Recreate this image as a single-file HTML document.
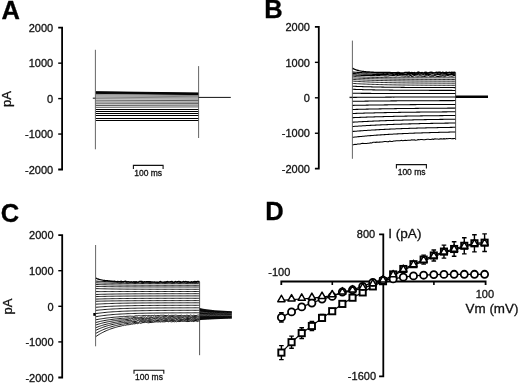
<!DOCTYPE html>
<html><head><meta charset="utf-8"><style>
html,body{margin:0;padding:0;background:#fff;width:520px;height:383px;overflow:hidden}
svg{display:block;will-change:transform;font-family:"Liberation Sans",sans-serif}
</style></head><body>
<svg width="520" height="383" viewBox="0 0 520 383" font-family="Liberation Sans, sans-serif">
<rect width="520" height="383" fill="#fff"/>
<text x="1.5" y="19.2" font-size="25.5" text-anchor="start" font-weight="bold" fill="#000" stroke="#000" stroke-width="0.3" >A</text>
<text x="264.2" y="17.8" font-size="25.5" text-anchor="start" font-weight="bold" fill="#000" stroke="#000" stroke-width="0.3" >B</text>
<text x="0.8" y="221.8" font-size="25.5" text-anchor="start" font-weight="bold" fill="#000" stroke="#000" stroke-width="0.3" >C</text>
<text x="265.2" y="219.8" font-size="25.5" text-anchor="start" font-weight="bold" fill="#000" stroke="#000" stroke-width="0.3" >D</text>
<path d="M58.2 27.7 H62.1 V169.5 H58.2" fill="none" stroke="#000" stroke-width="1.8"/>
<line x1="58.2" y1="63.15" x2="62.1" y2="63.15" stroke="#000" stroke-width="1.4" />
<line x1="58.2" y1="98.6" x2="62.1" y2="98.6" stroke="#000" stroke-width="1.4" />
<line x1="58.2" y1="134.05" x2="62.1" y2="134.05" stroke="#000" stroke-width="1.4" />
<text x="53.2" y="31.9" font-size="11" text-anchor="end" font-weight="normal" fill="#111" stroke="#111" stroke-width="0.3" >2000</text>
<text x="53.2" y="67.35" font-size="11" text-anchor="end" font-weight="normal" fill="#111" stroke="#111" stroke-width="0.3" >1000</text>
<text x="53.2" y="102.8" font-size="11" text-anchor="end" font-weight="normal" fill="#111" stroke="#111" stroke-width="0.3" >0</text>
<text x="53.2" y="138.25" font-size="11" text-anchor="end" font-weight="normal" fill="#111" stroke="#111" stroke-width="0.3" >-1000</text>
<text x="53.2" y="173.7" font-size="11" text-anchor="end" font-weight="normal" fill="#111" stroke="#111" stroke-width="0.3" >-2000</text>
<text transform="translate(11.4,99.0) rotate(-90)" font-size="13" text-anchor="middle" fill="#111" stroke="#111" stroke-width="0.3">pA</text>
<path d="M95.8 91.7 L198.6 93" fill="none" stroke="#000" stroke-width="0.95" />
<path d="M95.8 92.1 L198.6 93.4" fill="none" stroke="#000" stroke-width="0.95" />
<path d="M95.8 92.5 L198.6 93.8" fill="none" stroke="#000" stroke-width="0.95" />
<path d="M95.8 92.9 L198.6 94.2" fill="none" stroke="#000" stroke-width="0.95" />
<path d="M95.8 93.4 L198.6 94.6" fill="none" stroke="#000" stroke-width="0.95" />
<path d="M95.8 94.6 L198.6 95.6" fill="none" stroke="#000" stroke-width="0.5" />
<path d="M95.8 95.9 L198.6 96.7" fill="none" stroke="#000" stroke-width="0.5" />
<path d="M95.8 97.2 L198.6 97.9" fill="none" stroke="#000" stroke-width="0.5" />
<path d="M95.8 98.6 L198.6 99.2" fill="none" stroke="#000" stroke-width="0.5" />
<path d="M95.8 100.2 L198.6 100.6" fill="none" stroke="#000" stroke-width="0.65" />
<path d="M95.8 102 L198.6 102.1" fill="none" stroke="#000" stroke-width="0.65" />
<path d="M95.8 103.8 L198.6 103.6" fill="none" stroke="#000" stroke-width="0.65" />
<path d="M95.8 105.5 L198.6 105.1" fill="none" stroke="#000" stroke-width="0.65" />
<path d="M95.8 107.3 L198.6 106.9" fill="none" stroke="#000" stroke-width="0.65" />
<path d="M95.8 109.5 L198.6 109.5" fill="none" stroke="#000" stroke-width="1.0" />
<path d="M95.8 111.5 L198.6 111.5" fill="none" stroke="#000" stroke-width="1.0" />
<path d="M95.8 113.5 L198.6 113.5" fill="none" stroke="#000" stroke-width="1.0" />
<path d="M95.8 115.5 L198.6 115.5" fill="none" stroke="#000" stroke-width="1.0" />
<path d="M95.8 118.5 L198.6 118.5" fill="none" stroke="#000" stroke-width="1.0" />
<path d="M95.8 120.5 L198.6 120.5" fill="none" stroke="#000" stroke-width="1.0" />
<line x1="95.4" y1="49.8" x2="95.4" y2="149.3" stroke="#555" stroke-width="0.9" />
<line x1="198.6" y1="66.1" x2="198.6" y2="138" stroke="#555" stroke-width="0.9" />
<line x1="92.8" y1="98.2" x2="95.4" y2="98.2" stroke="#333" stroke-width="1.2" />
<line x1="198.6" y1="97.4" x2="230.8" y2="97.4" stroke="#111" stroke-width="1.0" />
<path d="M133.4 169 V165.4 H163.1 V169" fill="none" stroke="#111" stroke-width="1.1"/>
<text x="148.2" y="175.9" font-size="8.5" text-anchor="middle" font-weight="normal" fill="#111" stroke="#111" stroke-width="0.3" >100 ms</text>
<path d="M314.9 26.9 H318.8 V168.7 H314.9" fill="none" stroke="#000" stroke-width="1.8"/>
<line x1="314.9" y1="62.35" x2="318.8" y2="62.35" stroke="#000" stroke-width="1.4" />
<line x1="314.9" y1="97.8" x2="318.8" y2="97.8" stroke="#000" stroke-width="1.4" />
<line x1="314.9" y1="133.25" x2="318.8" y2="133.25" stroke="#000" stroke-width="1.4" />
<text x="309.9" y="31.1" font-size="11" text-anchor="end" font-weight="normal" fill="#111" stroke="#111" stroke-width="0.3" >2000</text>
<text x="309.9" y="66.55" font-size="11" text-anchor="end" font-weight="normal" fill="#111" stroke="#111" stroke-width="0.3" >1000</text>
<text x="309.9" y="102" font-size="11" text-anchor="end" font-weight="normal" fill="#111" stroke="#111" stroke-width="0.3" >0</text>
<text x="309.9" y="137.45" font-size="11" text-anchor="end" font-weight="normal" fill="#111" stroke="#111" stroke-width="0.3" >-1000</text>
<text x="309.9" y="172.9" font-size="11" text-anchor="end" font-weight="normal" fill="#111" stroke="#111" stroke-width="0.3" >-2000</text>
<path d="M352.4 68.1 L353.69 68.77 L354.98 69.34 L356.27 69.83 L357.56 70.24 L358.85 70.59 L360.14 70.89 L361.43 71.14 L362.72 71.36 L364.01 71.55 L365.3 71.7 L366.59 71.84 L367.88 71.95 L369.17 72.05 L370.46 72.13 L371.75 72.2 L373.04 72.25 L374.33 72.34 L375.62 72.4 L376.91 72.41 L378.2 72.44 L379.49 72.38 L380.78 72.36 L382.07 72.5 L383.36 72.38 L384.65 72.42 L385.94 72.44 L387.23 72.36 L388.52 72.54 L389.81 72.53 L391.1 72.73 L392.39 72.58 L393.68 72.65 L394.97 72.58 L396.26 72.68 L397.55 72.56 L398.84 72.44 L400.13 72.94 L401.42 72.95 L402.71 72.85 L404 72.76 L405.29 72.44 L406.58 72.36 L407.87 72.41 L409.16 72.2 L410.45 72.85 L411.74 72.5 L413.03 72.94 L414.32 72.48 L415.61 73.06 L416.9 72.95 L418.19 72.1 L419.48 72.31 L420.77 73.01 L422.06 72.57 L423.35 73.08 L424.64 72.5 L425.93 72.17 L427.22 72.73 L428.51 72.88 L429.8 72.37 L431.09 72.19 L432.38 72.43 L433.67 73.06 L434.96 72.86 L436.25 72.22 L437.54 72.35 L438.83 72.2 L440.12 72.16 L441.41 72.9 L442.7 72.28 L443.99 72.66 L445.28 72.55 L446.57 72.29 L447.86 72.83 L449.15 72.23 L450.44 72.74 L451.73 72.22 L453.02 72.52 L454.31 72.31 L455.6 72.6" fill="none" stroke="#000" stroke-width="1.4" />
<path d="M352.4 72 L353.69 72.12 L354.98 72.22 L356.27 72.32 L357.56 72.41 L358.85 72.49 L360.14 72.56 L361.43 72.63 L362.72 72.7 L364.01 72.76 L365.3 72.81 L366.59 72.86 L367.88 72.9 L369.17 72.94 L370.46 72.98 L371.75 73.02 L373.04 73.04 L374.33 73.05 L375.62 73.07 L376.91 73.14 L378.2 73.11 L379.49 73.19 L380.78 73.16 L382.07 73.2 L383.36 73.35 L384.65 73.23 L385.94 73.28 L387.23 73.4 L388.52 73.14 L389.81 73.13 L391.1 73.49 L392.39 73.47 L393.68 73.18 L394.97 73.14 L396.26 73.47 L397.55 73.61 L398.84 73.13 L400.13 73.66 L401.42 73.63 L402.71 73.43 L404 73.29 L405.29 73.03 L406.58 72.96 L407.87 73.78 L409.16 73.13 L410.45 73.57 L411.74 73.13 L413.03 73.7 L414.32 73.48 L415.61 73.17 L416.9 73.06 L418.19 73.6 L419.48 72.95 L420.77 73.12 L422.06 73.45 L423.35 73.74 L424.64 73.5 L425.93 73.17 L427.22 73.81 L428.51 73.1 L429.8 72.91 L431.09 73.16 L432.38 73.34 L433.67 72.96 L434.96 73.07 L436.25 73.26 L437.54 73.47 L438.83 73.03 L440.12 73.26 L441.41 73.79 L442.7 73.88 L443.99 73.56 L445.28 73.59 L446.57 73.48 L447.86 73.04 L449.15 72.93 L450.44 72.92 L451.73 73.81 L453.02 73.6 L454.31 73.86 L455.6 73.4" fill="none" stroke="#000" stroke-width="1.1" />
<path d="M352.4 73.5 L353.69 73.59 L354.98 73.67 L356.27 73.75 L357.56 73.82 L358.85 73.88 L360.14 73.94 L361.43 74 L362.72 74.05 L364.01 74.09 L365.3 74.14 L366.59 74.17 L367.88 74.21 L369.17 74.24 L370.46 74.27 L371.75 74.3 L373.04 74.33 L374.33 74.37 L375.62 74.4 L376.91 74.38 L378.2 74.45 L379.49 74.49 L380.78 74.45 L382.07 74.48 L383.36 74.43 L384.65 74.5 L385.94 74.52 L387.23 74.33 L388.52 74.56 L389.81 74.73 L391.1 74.7 L392.39 74.64 L393.68 74.47 L394.97 74.67 L396.26 74.59 L397.55 74.51 L398.84 74.78 L400.13 74.26 L401.42 74.74 L402.71 74.2 L404 74.65 L405.29 74.55 L406.58 74.34 L407.87 74.75 L409.16 74.57 L410.45 74.69 L411.74 75 L413.03 74.34 L414.32 74.09 L415.61 74.39 L416.9 74.76 L418.19 74.29 L419.48 74.26 L420.77 75 L422.06 74.75 L423.35 74.53 L424.64 74.98 L425.93 74.42 L427.22 74.76 L428.51 74.29 L429.8 74.53 L431.09 74.9 L432.38 75.01 L433.67 74.98 L434.96 74.48 L436.25 74.68 L437.54 74.41 L438.83 74.23 L440.12 74.59 L441.41 74.94 L442.7 74.95 L443.99 74.81 L445.28 75.05 L446.57 74.38 L447.86 74.27 L449.15 74.55 L450.44 74.37 L451.73 74.31 L453.02 74.51 L454.31 74.73 L455.6 74.6" fill="none" stroke="#000" stroke-width="1.1" />
<path d="M352.4 74.9 L353.69 74.98 L354.98 75.06 L356.27 75.13 L357.56 75.19 L358.85 75.25 L360.14 75.3 L361.43 75.35 L362.72 75.4 L364.01 75.44 L365.3 75.48 L366.59 75.51 L367.88 75.54 L369.17 75.57 L370.46 75.6 L371.75 75.63 L373.04 75.65 L374.33 75.64 L375.62 75.72 L376.91 75.67 L378.2 75.67 L379.49 75.65 L380.78 75.78 L382.07 75.75 L383.36 75.81 L384.65 75.83 L385.94 75.9 L387.23 75.98 L388.52 75.89 L389.81 75.68 L391.1 75.81 L392.39 75.67 L393.68 75.57 L394.97 75.83 L396.26 75.98 L397.55 75.65 L398.84 75.7 L400.13 75.75 L401.42 76.01 L402.71 75.88 L404 75.96 L405.29 76.08 L406.58 75.78 L407.87 76.14 L409.16 76.26 L410.45 75.48 L411.74 76.31 L413.03 76.11 L414.32 75.51 L415.61 75.84 L416.9 76.01 L418.19 76.3 L419.48 75.77 L420.77 75.96 L422.06 76.27 L423.35 76.19 L424.64 76.34 L425.93 75.86 L427.22 76.05 L428.51 75.6 L429.8 76.12 L431.09 76.21 L432.38 76.04 L433.67 76.11 L434.96 75.61 L436.25 76.3 L437.54 76.38 L438.83 76.38 L440.12 75.94 L441.41 76.19 L442.7 75.72 L443.99 76.31 L445.28 76.25 L446.57 75.75 L447.86 75.48 L449.15 75.84 L450.44 75.95 L451.73 76.17 L453.02 75.89 L454.31 75.43 L455.6 75.9" fill="none" stroke="#000" stroke-width="1.1" />
<path d="M352.4 76.2 L353.69 76.33 L354.98 76.45 L356.27 76.56 L357.56 76.67 L358.85 76.76 L360.14 76.85 L361.43 76.92 L362.72 77 L364.01 77.06 L365.3 77.12 L366.59 77.18 L367.88 77.23 L369.17 77.28 L370.46 77.32 L371.75 77.36 L373.04 77.4 L374.33 77.43 L375.62 77.46 L376.91 77.49 L378.2 77.51 L379.49 77.54 L380.78 77.56 L382.07 77.58 L383.36 77.6 L384.65 77.62 L385.94 77.63 L387.23 77.64 L388.52 77.66 L389.81 77.67 L391.1 77.68 L392.39 77.69 L393.68 77.7 L394.97 77.71 L396.26 77.72 L397.55 77.72 L398.84 77.73 L400.13 77.74 L401.42 77.74 L402.71 77.75 L404 77.75 L405.29 77.75 L406.58 77.76 L407.87 77.76 L409.16 77.77 L410.45 77.77 L411.74 77.77 L413.03 77.77 L414.32 77.78 L415.61 77.78 L416.9 77.78 L418.19 77.78 L419.48 77.78 L420.77 77.78 L422.06 77.79 L423.35 77.79 L424.64 77.79 L425.93 77.79 L427.22 77.79 L428.51 77.79 L429.8 77.79 L431.09 77.79 L432.38 77.79 L433.67 77.79 L434.96 77.8 L436.25 77.8 L437.54 77.8 L438.83 77.8 L440.12 77.8 L441.41 77.8 L442.7 77.8 L443.99 77.8 L445.28 77.8 L446.57 77.8 L447.86 77.8 L449.15 77.8 L450.44 77.8 L451.73 77.8 L453.02 77.8 L454.31 77.8 L455.6 77.8" fill="none" stroke="#000" stroke-width="0.85" />
<path d="M352.4 77.9 L353.69 77.97 L354.98 78.04 L356.27 78.1 L357.56 78.16 L358.85 78.22 L360.14 78.28 L361.43 78.33 L362.72 78.38 L364.01 78.43 L365.3 78.48 L366.59 78.52 L367.88 78.57 L369.17 78.61 L370.46 78.65 L371.75 78.69 L373.04 78.72 L374.33 78.76 L375.62 78.79 L376.91 78.82 L378.2 78.85 L379.49 78.88 L380.78 78.91 L382.07 78.94 L383.36 78.96 L384.65 78.99 L385.94 79.01 L387.23 79.04 L388.52 79.06 L389.81 79.08 L391.1 79.1 L392.39 79.12 L393.68 79.14 L394.97 79.15 L396.26 79.17 L397.55 79.19 L398.84 79.2 L400.13 79.22 L401.42 79.23 L402.71 79.24 L404 79.26 L405.29 79.27 L406.58 79.28 L407.87 79.29 L409.16 79.3 L410.45 79.31 L411.74 79.32 L413.03 79.33 L414.32 79.34 L415.61 79.35 L416.9 79.36 L418.19 79.37 L419.48 79.38 L420.77 79.38 L422.06 79.39 L423.35 79.4 L424.64 79.4 L425.93 79.41 L427.22 79.42 L428.51 79.42 L429.8 79.43 L431.09 79.43 L432.38 79.44 L433.67 79.44 L434.96 79.45 L436.25 79.45 L437.54 79.46 L438.83 79.46 L440.12 79.46 L441.41 79.47 L442.7 79.47 L443.99 79.47 L445.28 79.48 L446.57 79.48 L447.86 79.48 L449.15 79.49 L450.44 79.49 L451.73 79.49 L453.02 79.5 L454.31 79.5 L455.6 79.5" fill="none" stroke="#000" stroke-width="0.85" />
<path d="M352.4 79.4 L353.69 79.48 L354.98 79.55 L356.27 79.63 L357.56 79.69 L358.85 79.76 L360.14 79.82 L361.43 79.88 L362.72 79.94 L364.01 80 L365.3 80.05 L366.59 80.1 L367.88 80.15 L369.17 80.2 L370.46 80.24 L371.75 80.28 L373.04 80.33 L374.33 80.36 L375.62 80.4 L376.91 80.44 L378.2 80.47 L379.49 80.51 L380.78 80.54 L382.07 80.57 L383.36 80.6 L384.65 80.62 L385.94 80.65 L387.23 80.68 L388.52 80.7 L389.81 80.73 L391.1 80.75 L392.39 80.77 L393.68 80.79 L394.97 80.81 L396.26 80.83 L397.55 80.85 L398.84 80.86 L400.13 80.88 L401.42 80.9 L402.71 80.91 L404 80.93 L405.29 80.94 L406.58 80.95 L407.87 80.97 L409.16 80.98 L410.45 80.99 L411.74 81 L413.03 81.01 L414.32 81.02 L415.61 81.03 L416.9 81.04 L418.19 81.05 L419.48 81.06 L420.77 81.07 L422.06 81.08 L423.35 81.08 L424.64 81.09 L425.93 81.1 L427.22 81.11 L428.51 81.11 L429.8 81.12 L431.09 81.12 L432.38 81.13 L433.67 81.14 L434.96 81.14 L436.25 81.15 L437.54 81.15 L438.83 81.16 L440.12 81.16 L441.41 81.16 L442.7 81.17 L443.99 81.17 L445.28 81.18 L446.57 81.18 L447.86 81.18 L449.15 81.19 L450.44 81.19 L451.73 81.19 L453.02 81.19 L454.31 81.2 L455.6 81.2" fill="none" stroke="#000" stroke-width="0.85" />
<path d="M352.4 81.1 L353.69 81.19 L354.98 81.28 L356.27 81.36 L357.56 81.44 L358.85 81.52 L360.14 81.59 L361.43 81.66 L362.72 81.73 L364.01 81.8 L365.3 81.86 L366.59 81.92 L367.88 81.97 L369.17 82.03 L370.46 82.08 L371.75 82.13 L373.04 82.18 L374.33 82.23 L375.62 82.27 L376.91 82.31 L378.2 82.35 L379.49 82.39 L380.78 82.43 L382.07 82.46 L383.36 82.5 L384.65 82.53 L385.94 82.56 L387.23 82.59 L388.52 82.62 L389.81 82.65 L391.1 82.67 L392.39 82.7 L393.68 82.72 L394.97 82.74 L396.26 82.77 L397.55 82.79 L398.84 82.81 L400.13 82.83 L401.42 82.85 L402.71 82.86 L404 82.88 L405.29 82.9 L406.58 82.91 L407.87 82.93 L409.16 82.94 L410.45 82.96 L411.74 82.97 L413.03 82.98 L414.32 82.99 L415.61 83.01 L416.9 83.02 L418.19 83.03 L419.48 83.04 L420.77 83.05 L422.06 83.06 L423.35 83.07 L424.64 83.07 L425.93 83.08 L427.22 83.09 L428.51 83.1 L429.8 83.11 L431.09 83.11 L432.38 83.12 L433.67 83.13 L434.96 83.13 L436.25 83.14 L437.54 83.14 L438.83 83.15 L440.12 83.15 L441.41 83.16 L442.7 83.16 L443.99 83.17 L445.28 83.17 L446.57 83.18 L447.86 83.18 L449.15 83.18 L450.44 83.19 L451.73 83.19 L453.02 83.19 L454.31 83.2 L455.6 83.2" fill="none" stroke="#000" stroke-width="0.85" />
<path d="M352.4 83.4 L353.69 83.48 L354.98 83.56 L356.27 83.64 L357.56 83.71 L358.85 83.78 L360.14 83.85 L361.43 83.91 L362.72 83.97 L364.01 84.03 L365.3 84.09 L366.59 84.14 L367.88 84.19 L369.17 84.24 L370.46 84.29 L371.75 84.33 L373.04 84.38 L374.33 84.42 L375.62 84.46 L376.91 84.5 L378.2 84.53 L379.49 84.57 L380.78 84.6 L382.07 84.63 L383.36 84.66 L384.65 84.69 L385.94 84.72 L387.23 84.75 L388.52 84.77 L389.81 84.8 L391.1 84.82 L392.39 84.85 L393.68 84.87 L394.97 84.89 L396.26 84.91 L397.55 84.93 L398.84 84.95 L400.13 84.96 L401.42 84.98 L402.71 85 L404 85.01 L405.29 85.03 L406.58 85.04 L407.87 85.05 L409.16 85.07 L410.45 85.08 L411.74 85.09 L413.03 85.1 L414.32 85.11 L415.61 85.12 L416.9 85.13 L418.19 85.14 L419.48 85.15 L420.77 85.16 L422.06 85.17 L423.35 85.18 L424.64 85.19 L425.93 85.19 L427.22 85.2 L428.51 85.21 L429.8 85.21 L431.09 85.22 L432.38 85.23 L433.67 85.23 L434.96 85.24 L436.25 85.24 L437.54 85.25 L438.83 85.25 L440.12 85.26 L441.41 85.26 L442.7 85.27 L443.99 85.27 L445.28 85.27 L446.57 85.28 L447.86 85.28 L449.15 85.28 L450.44 85.29 L451.73 85.29 L453.02 85.29 L454.31 85.3 L455.6 85.3" fill="none" stroke="#000" stroke-width="0.85" />
<path d="M352.4 86.2 L353.69 86.26 L354.98 86.32 L356.27 86.38 L357.56 86.43 L358.85 86.48 L360.14 86.53 L361.43 86.58 L362.72 86.62 L364.01 86.66 L365.3 86.71 L366.59 86.75 L367.88 86.78 L369.17 86.82 L370.46 86.85 L371.75 86.89 L373.04 86.92 L374.33 86.95 L375.62 86.98 L376.91 87.01 L378.2 87.03 L379.49 87.06 L380.78 87.08 L382.07 87.11 L383.36 87.13 L384.65 87.15 L385.94 87.17 L387.23 87.19 L388.52 87.21 L389.81 87.23 L391.1 87.25 L392.39 87.26 L393.68 87.28 L394.97 87.3 L396.26 87.31 L397.55 87.33 L398.84 87.34 L400.13 87.35 L401.42 87.36 L402.71 87.38 L404 87.39 L405.29 87.4 L406.58 87.41 L407.87 87.42 L409.16 87.43 L410.45 87.44 L411.74 87.45 L413.03 87.45 L414.32 87.46 L415.61 87.47 L416.9 87.48 L418.19 87.48 L419.48 87.49 L420.77 87.5 L422.06 87.5 L423.35 87.51 L424.64 87.52 L425.93 87.52 L427.22 87.53 L428.51 87.53 L429.8 87.54 L431.09 87.54 L432.38 87.55 L433.67 87.55 L434.96 87.55 L436.25 87.56 L437.54 87.56 L438.83 87.57 L440.12 87.57 L441.41 87.57 L442.7 87.58 L443.99 87.58 L445.28 87.58 L446.57 87.58 L447.86 87.59 L449.15 87.59 L450.44 87.59 L451.73 87.59 L453.02 87.6 L454.31 87.6 L455.6 87.6" fill="none" stroke="#000" stroke-width="1.05" />
<path d="M352.4 89.3 L353.69 89.35 L354.98 89.39 L356.27 89.44 L357.56 89.48 L358.85 89.52 L360.14 89.56 L361.43 89.6 L362.72 89.63 L364.01 89.66 L365.3 89.7 L366.59 89.73 L367.88 89.76 L369.17 89.79 L370.46 89.81 L371.75 89.84 L373.04 89.87 L374.33 89.89 L375.62 89.91 L376.91 89.93 L378.2 89.96 L379.49 89.98 L380.78 90 L382.07 90.01 L383.36 90.03 L384.65 90.05 L385.94 90.06 L387.23 90.08 L388.52 90.1 L389.81 90.11 L391.1 90.12 L392.39 90.14 L393.68 90.15 L394.97 90.16 L396.26 90.17 L397.55 90.18 L398.84 90.19 L400.13 90.2 L401.42 90.21 L402.71 90.22 L404 90.23 L405.29 90.24 L406.58 90.25 L407.87 90.26 L409.16 90.27 L410.45 90.27 L411.74 90.28 L413.03 90.29 L414.32 90.29 L415.61 90.3 L416.9 90.3 L418.19 90.31 L419.48 90.31 L420.77 90.32 L422.06 90.32 L423.35 90.33 L424.64 90.33 L425.93 90.34 L427.22 90.34 L428.51 90.35 L429.8 90.35 L431.09 90.35 L432.38 90.36 L433.67 90.36 L434.96 90.36 L436.25 90.37 L437.54 90.37 L438.83 90.37 L440.12 90.38 L441.41 90.38 L442.7 90.38 L443.99 90.38 L445.28 90.39 L446.57 90.39 L447.86 90.39 L449.15 90.39 L450.44 90.39 L451.73 90.39 L453.02 90.4 L454.31 90.4 L455.6 90.4" fill="none" stroke="#000" stroke-width="1.05" />
<path d="M352.4 93.3 L353.69 93.31 L354.98 93.32 L356.27 93.33 L357.56 93.33 L358.85 93.34 L360.14 93.35 L361.43 93.35 L362.72 93.36 L364.01 93.37 L365.3 93.37 L366.59 93.38 L367.88 93.38 L369.17 93.39 L370.46 93.39 L371.75 93.4 L373.04 93.4 L374.33 93.41 L375.62 93.41 L376.91 93.42 L378.2 93.42 L379.49 93.42 L380.78 93.43 L382.07 93.43 L383.36 93.43 L384.65 93.44 L385.94 93.44 L387.23 93.44 L388.52 93.44 L389.81 93.45 L391.1 93.45 L392.39 93.45 L393.68 93.45 L394.97 93.46 L396.26 93.46 L397.55 93.46 L398.84 93.46 L400.13 93.46 L401.42 93.47 L402.71 93.47 L404 93.47 L405.29 93.47 L406.58 93.47 L407.87 93.47 L409.16 93.48 L410.45 93.48 L411.74 93.48 L413.03 93.48 L414.32 93.48 L415.61 93.48 L416.9 93.48 L418.19 93.48 L419.48 93.48 L420.77 93.49 L422.06 93.49 L423.35 93.49 L424.64 93.49 L425.93 93.49 L427.22 93.49 L428.51 93.49 L429.8 93.49 L431.09 93.49 L432.38 93.49 L433.67 93.49 L434.96 93.49 L436.25 93.49 L437.54 93.49 L438.83 93.5 L440.12 93.5 L441.41 93.5 L442.7 93.5 L443.99 93.5 L445.28 93.5 L446.57 93.5 L447.86 93.5 L449.15 93.5 L450.44 93.5 L451.73 93.5 L453.02 93.5 L454.31 93.5 L455.6 93.5" fill="none" stroke="#000" stroke-width="1.05" />
<path d="M352.4 97.4 L353.69 97.39 L354.98 97.37 L356.27 97.36 L357.56 97.35 L358.85 97.34 L360.14 97.33 L361.43 97.31 L362.72 97.3 L364.01 97.29 L365.3 97.28 L366.59 97.27 L367.88 97.26 L369.17 97.25 L370.46 97.24 L371.75 97.23 L373.04 97.22 L374.33 97.21 L375.62 97.2 L376.91 97.2 L378.2 97.19 L379.49 97.18 L380.78 97.17 L382.07 97.16 L383.36 97.15 L384.65 97.15 L385.94 97.14 L387.23 97.13 L388.52 97.12 L389.81 97.12 L391.1 97.11 L392.39 97.1 L393.68 97.1 L394.97 97.09 L396.26 97.08 L397.55 97.08 L398.84 97.07 L400.13 97.07 L401.42 97.06 L402.71 97.05 L404 97.05 L405.29 97.04 L406.58 97.04 L407.87 97.03 L409.16 97.03 L410.45 97.02 L411.74 97.02 L413.03 97.01 L414.32 97.01 L415.61 97 L416.9 97 L418.19 96.99 L419.48 96.99 L420.77 96.99 L422.06 96.98 L423.35 96.98 L424.64 96.97 L425.93 96.97 L427.22 96.97 L428.51 96.96 L429.8 96.96 L431.09 96.96 L432.38 96.95 L433.67 96.95 L434.96 96.94 L436.25 96.94 L437.54 96.94 L438.83 96.94 L440.12 96.93 L441.41 96.93 L442.7 96.93 L443.99 96.92 L445.28 96.92 L446.57 96.92 L447.86 96.92 L449.15 96.91 L450.44 96.91 L451.73 96.91 L453.02 96.9 L454.31 96.9 L455.6 96.9" fill="none" stroke="#000" stroke-width="1.05" />
<path d="M352.4 101.3 L353.69 101.28 L354.98 101.26 L356.27 101.25 L357.56 101.23 L358.85 101.21 L360.14 101.2 L361.43 101.18 L362.72 101.17 L364.01 101.15 L365.3 101.14 L366.59 101.12 L367.88 101.11 L369.17 101.09 L370.46 101.08 L371.75 101.06 L373.04 101.05 L374.33 101.04 L375.62 101.03 L376.91 101.01 L378.2 101 L379.49 100.99 L380.78 100.98 L382.07 100.97 L383.36 100.96 L384.65 100.95 L385.94 100.93 L387.23 100.92 L388.52 100.91 L389.81 100.9 L391.1 100.89 L392.39 100.89 L393.68 100.88 L394.97 100.87 L396.26 100.86 L397.55 100.85 L398.84 100.84 L400.13 100.83 L401.42 100.82 L402.71 100.82 L404 100.81 L405.29 100.8 L406.58 100.79 L407.87 100.79 L409.16 100.78 L410.45 100.77 L411.74 100.76 L413.03 100.76 L414.32 100.75 L415.61 100.74 L416.9 100.74 L418.19 100.73 L419.48 100.73 L420.77 100.72 L422.06 100.71 L423.35 100.71 L424.64 100.7 L425.93 100.7 L427.22 100.69 L428.51 100.69 L429.8 100.68 L431.09 100.68 L432.38 100.67 L433.67 100.67 L434.96 100.66 L436.25 100.66 L437.54 100.65 L438.83 100.65 L440.12 100.64 L441.41 100.64 L442.7 100.64 L443.99 100.63 L445.28 100.63 L446.57 100.62 L447.86 100.62 L449.15 100.62 L450.44 100.61 L451.73 100.61 L453.02 100.61 L454.31 100.6 L455.6 100.6" fill="none" stroke="#000" stroke-width="1.05" />
<path d="M352.4 105.4 L353.69 105.37 L354.98 105.35 L356.27 105.32 L357.56 105.3 L358.85 105.28 L360.14 105.25 L361.43 105.23 L362.72 105.21 L364.01 105.19 L365.3 105.16 L366.59 105.14 L367.88 105.12 L369.17 105.1 L370.46 105.08 L371.75 105.06 L373.04 105.05 L374.33 105.03 L375.62 105.01 L376.91 104.99 L378.2 104.97 L379.49 104.96 L380.78 104.94 L382.07 104.92 L383.36 104.91 L384.65 104.89 L385.94 104.88 L387.23 104.86 L388.52 104.85 L389.81 104.83 L391.1 104.82 L392.39 104.81 L393.68 104.79 L394.97 104.78 L396.26 104.77 L397.55 104.76 L398.84 104.74 L400.13 104.73 L401.42 104.72 L402.71 104.71 L404 104.7 L405.29 104.69 L406.58 104.68 L407.87 104.67 L409.16 104.65 L410.45 104.64 L411.74 104.63 L413.03 104.63 L414.32 104.62 L415.61 104.61 L416.9 104.6 L418.19 104.59 L419.48 104.58 L420.77 104.57 L422.06 104.56 L423.35 104.56 L424.64 104.55 L425.93 104.54 L427.22 104.53 L428.51 104.52 L429.8 104.52 L431.09 104.51 L432.38 104.5 L433.67 104.5 L434.96 104.49 L436.25 104.48 L437.54 104.48 L438.83 104.47 L440.12 104.46 L441.41 104.46 L442.7 104.45 L443.99 104.45 L445.28 104.44 L446.57 104.44 L447.86 104.43 L449.15 104.42 L450.44 104.42 L451.73 104.41 L453.02 104.41 L454.31 104.4 L455.6 104.4" fill="none" stroke="#000" stroke-width="1.05" />
<path d="M352.4 109.5 L353.69 109.46 L354.98 109.43 L356.27 109.39 L357.56 109.36 L358.85 109.33 L360.14 109.29 L361.43 109.26 L362.72 109.23 L364.01 109.2 L365.3 109.17 L366.59 109.14 L367.88 109.11 L369.17 109.08 L370.46 109.06 L371.75 109.03 L373.04 109 L374.33 108.98 L375.62 108.95 L376.91 108.93 L378.2 108.9 L379.49 108.88 L380.78 108.86 L382.07 108.83 L383.36 108.81 L384.65 108.79 L385.94 108.77 L387.23 108.75 L388.52 108.73 L389.81 108.71 L391.1 108.69 L392.39 108.67 L393.68 108.65 L394.97 108.63 L396.26 108.62 L397.55 108.6 L398.84 108.58 L400.13 108.56 L401.42 108.55 L402.71 108.53 L404 108.52 L405.29 108.5 L406.58 108.49 L407.87 108.47 L409.16 108.46 L410.45 108.44 L411.74 108.43 L413.03 108.42 L414.32 108.4 L415.61 108.39 L416.9 108.38 L418.19 108.36 L419.48 108.35 L420.77 108.34 L422.06 108.33 L423.35 108.32 L424.64 108.31 L425.93 108.3 L427.22 108.28 L428.51 108.27 L429.8 108.26 L431.09 108.25 L432.38 108.24 L433.67 108.23 L434.96 108.23 L436.25 108.22 L437.54 108.21 L438.83 108.2 L440.12 108.19 L441.41 108.18 L442.7 108.17 L443.99 108.17 L445.28 108.16 L446.57 108.15 L447.86 108.14 L449.15 108.13 L450.44 108.13 L451.73 108.12 L453.02 108.11 L454.31 108.11 L455.6 108.1" fill="none" stroke="#000" stroke-width="1.05" />
<path d="M352.4 113.5 L353.69 113.46 L354.98 113.41 L356.27 113.37 L357.56 113.33 L358.85 113.29 L360.14 113.25 L361.43 113.21 L362.72 113.17 L364.01 113.14 L365.3 113.1 L366.59 113.06 L367.88 113.03 L369.17 113 L370.46 112.96 L371.75 112.93 L373.04 112.9 L374.33 112.87 L375.62 112.84 L376.91 112.81 L378.2 112.78 L379.49 112.75 L380.78 112.72 L382.07 112.69 L383.36 112.67 L384.65 112.64 L385.94 112.61 L387.23 112.59 L388.52 112.56 L389.81 112.54 L391.1 112.52 L392.39 112.49 L393.68 112.47 L394.97 112.45 L396.26 112.43 L397.55 112.4 L398.84 112.38 L400.13 112.36 L401.42 112.34 L402.71 112.32 L404 112.31 L405.29 112.29 L406.58 112.27 L407.87 112.25 L409.16 112.23 L410.45 112.22 L411.74 112.2 L413.03 112.18 L414.32 112.17 L415.61 112.15 L416.9 112.14 L418.19 112.12 L419.48 112.11 L420.77 112.09 L422.06 112.08 L423.35 112.06 L424.64 112.05 L425.93 112.04 L427.22 112.02 L428.51 112.01 L429.8 112 L431.09 111.99 L432.38 111.98 L433.67 111.96 L434.96 111.95 L436.25 111.94 L437.54 111.93 L438.83 111.92 L440.12 111.91 L441.41 111.9 L442.7 111.89 L443.99 111.88 L445.28 111.87 L446.57 111.86 L447.86 111.85 L449.15 111.84 L450.44 111.83 L451.73 111.82 L453.02 111.82 L454.31 111.81 L455.6 111.8" fill="none" stroke="#000" stroke-width="1.05" />
<path d="M352.4 117.7 L353.69 117.64 L354.98 117.59 L356.27 117.53 L357.56 117.48 L358.85 117.43 L360.14 117.38 L361.43 117.33 L362.72 117.28 L364.01 117.23 L365.3 117.18 L366.59 117.14 L367.88 117.09 L369.17 117.05 L370.46 117 L371.75 116.96 L373.04 116.92 L374.33 116.88 L375.62 116.84 L376.91 116.8 L378.2 116.76 L379.49 116.73 L380.78 116.69 L382.07 116.65 L383.36 116.62 L384.65 116.59 L385.94 116.55 L387.23 116.52 L388.52 116.49 L389.81 116.46 L391.1 116.43 L392.39 116.4 L393.68 116.37 L394.97 116.34 L396.26 116.31 L397.55 116.28 L398.84 116.26 L400.13 116.23 L401.42 116.2 L402.71 116.18 L404 116.15 L405.29 116.13 L406.58 116.11 L407.87 116.08 L409.16 116.06 L410.45 116.04 L411.74 116.02 L413.03 116 L414.32 115.97 L415.61 115.95 L416.9 115.93 L418.19 115.92 L419.48 115.9 L420.77 115.88 L422.06 115.86 L423.35 115.84 L424.64 115.82 L425.93 115.81 L427.22 115.79 L428.51 115.77 L429.8 115.76 L431.09 115.74 L432.38 115.73 L433.67 115.71 L434.96 115.7 L436.25 115.68 L437.54 115.67 L438.83 115.65 L440.12 115.64 L441.41 115.63 L442.7 115.62 L443.99 115.6 L445.28 115.59 L446.57 115.58 L447.86 115.57 L449.15 115.55 L450.44 115.54 L451.73 115.53 L453.02 115.52 L454.31 115.51 L455.6 115.5" fill="none" stroke="#000" stroke-width="1.05" />
<path d="M352.4 122.2 L353.69 122.12 L354.98 122.05 L356.27 121.97 L357.56 121.9 L358.85 121.83 L360.14 121.76 L361.43 121.69 L362.72 121.62 L364.01 121.56 L365.3 121.49 L366.59 121.43 L367.88 121.37 L369.17 121.31 L370.46 121.25 L371.75 121.19 L373.04 121.14 L374.33 121.08 L375.62 121.03 L376.91 120.97 L378.2 120.92 L379.49 120.87 L380.78 120.82 L382.07 120.77 L383.36 120.73 L384.65 120.68 L385.94 120.64 L387.23 120.59 L388.52 120.55 L389.81 120.5 L391.1 120.46 L392.39 120.42 L393.68 120.38 L394.97 120.34 L396.26 120.3 L397.55 120.27 L398.84 120.23 L400.13 120.2 L401.42 120.16 L402.71 120.13 L404 120.09 L405.29 120.06 L406.58 120.03 L407.87 120 L409.16 119.96 L410.45 119.93 L411.74 119.9 L413.03 119.88 L414.32 119.85 L415.61 119.82 L416.9 119.79 L418.19 119.77 L419.48 119.74 L420.77 119.71 L422.06 119.69 L423.35 119.67 L424.64 119.64 L425.93 119.62 L427.22 119.6 L428.51 119.57 L429.8 119.55 L431.09 119.53 L432.38 119.51 L433.67 119.49 L434.96 119.47 L436.25 119.45 L437.54 119.43 L438.83 119.41 L440.12 119.39 L441.41 119.37 L442.7 119.36 L443.99 119.34 L445.28 119.32 L446.57 119.31 L447.86 119.29 L449.15 119.27 L450.44 119.26 L451.73 119.24 L453.02 119.23 L454.31 119.21 L455.6 119.2" fill="none" stroke="#000" stroke-width="1.05" />
<path d="M352.4 126.5 L353.69 126.41 L354.98 126.32 L356.27 126.23 L357.56 126.15 L358.85 126.07 L360.14 125.98 L361.43 125.9 L362.72 125.83 L364.01 125.75 L365.3 125.68 L366.59 125.6 L367.88 125.53 L369.17 125.46 L370.46 125.39 L371.75 125.32 L373.04 125.26 L374.33 125.19 L375.62 125.13 L376.91 125.07 L378.2 125.01 L379.49 124.95 L380.78 124.89 L382.07 124.84 L383.36 124.78 L384.65 124.73 L385.94 124.67 L387.23 124.62 L388.52 124.57 L389.81 124.52 L391.1 124.47 L392.39 124.43 L393.68 124.38 L394.97 124.33 L396.26 124.29 L397.55 124.25 L398.84 124.2 L400.13 124.16 L401.42 124.12 L402.71 124.08 L404 124.04 L405.29 124 L406.58 123.96 L407.87 123.93 L409.16 123.89 L410.45 123.86 L411.74 123.82 L413.03 123.79 L414.32 123.76 L415.61 123.72 L416.9 123.69 L418.19 123.66 L419.48 123.63 L420.77 123.6 L422.06 123.57 L423.35 123.54 L424.64 123.52 L425.93 123.49 L427.22 123.46 L428.51 123.44 L429.8 123.41 L431.09 123.39 L432.38 123.36 L433.67 123.34 L434.96 123.31 L436.25 123.29 L437.54 123.27 L438.83 123.25 L440.12 123.22 L441.41 123.2 L442.7 123.18 L443.99 123.16 L445.28 123.14 L446.57 123.12 L447.86 123.11 L449.15 123.09 L450.44 123.07 L451.73 123.05 L453.02 123.03 L454.31 123.02 L455.6 123" fill="none" stroke="#000" stroke-width="1.05" />
<path d="M352.4 131.5 L353.69 131.39 L354.98 131.28 L356.27 131.18 L357.56 131.08 L358.85 130.98 L360.14 130.88 L361.43 130.79 L362.72 130.69 L364.01 130.6 L365.3 130.51 L366.59 130.42 L367.88 130.34 L369.17 130.25 L370.46 130.17 L371.75 130.09 L373.04 130.01 L374.33 129.93 L375.62 129.86 L376.91 129.78 L378.2 129.71 L379.49 129.64 L380.78 129.57 L382.07 129.5 L383.36 129.44 L384.65 129.37 L385.94 129.31 L387.23 129.25 L388.52 129.19 L389.81 129.13 L391.1 129.07 L392.39 129.01 L393.68 128.96 L394.97 128.9 L396.26 128.85 L397.55 128.79 L398.84 128.74 L400.13 128.69 L401.42 128.64 L402.71 128.6 L404 128.55 L405.29 128.5 L406.58 128.46 L407.87 128.41 L409.16 128.37 L410.45 128.33 L411.74 128.29 L413.03 128.25 L414.32 128.21 L415.61 128.17 L416.9 128.13 L418.19 128.09 L419.48 128.06 L420.77 128.02 L422.06 127.99 L423.35 127.95 L424.64 127.92 L425.93 127.89 L427.22 127.85 L428.51 127.82 L429.8 127.79 L431.09 127.76 L432.38 127.73 L433.67 127.7 L434.96 127.68 L436.25 127.65 L437.54 127.62 L438.83 127.6 L440.12 127.57 L441.41 127.54 L442.7 127.52 L443.99 127.5 L445.28 127.47 L446.57 127.45 L447.86 127.43 L449.15 127.4 L450.44 127.38 L451.73 127.36 L453.02 127.34 L454.31 127.32 L455.6 127.3" fill="none" stroke="#000" stroke-width="1.05" />
<path d="M352.4 137.3 L353.69 137.16 L354.98 137.03 L356.27 136.9 L357.56 136.77 L358.85 136.64 L360.14 136.52 L361.43 136.4 L362.72 136.28 L364.01 136.16 L365.3 136.05 L366.59 135.94 L367.88 135.83 L369.17 135.73 L370.46 135.62 L371.75 135.52 L373.04 135.42 L374.33 135.32 L375.62 135.23 L376.91 135.13 L378.2 135.04 L379.49 134.95 L380.78 134.87 L382.07 134.78 L383.36 134.7 L384.65 134.62 L385.94 134.54 L387.23 134.46 L388.52 134.38 L389.81 134.3 L391.1 134.23 L392.39 134.16 L393.68 134.09 L394.97 134.02 L396.26 133.95 L397.55 133.89 L398.84 133.82 L400.13 133.76 L401.42 133.7 L402.71 133.64 L404 133.58 L405.29 133.52 L406.58 133.46 L407.87 133.41 L409.16 133.35 L410.45 133.3 L411.74 133.25 L413.03 133.19 L414.32 133.14 L415.61 133.1 L416.9 133.05 L418.19 133 L419.48 132.95 L420.77 132.91 L422.06 132.87 L423.35 132.82 L424.64 132.78 L425.93 132.74 L427.22 132.7 L428.51 132.66 L429.8 132.62 L431.09 132.58 L432.38 132.55 L433.67 132.51 L434.96 132.47 L436.25 132.44 L437.54 132.41 L438.83 132.37 L440.12 132.34 L441.41 132.31 L442.7 132.28 L443.99 132.25 L445.28 132.22 L446.57 132.19 L447.86 132.16 L449.15 132.13 L450.44 132.1 L451.73 132.08 L453.02 132.05 L454.31 132.03 L455.6 132" fill="none" stroke="#000" stroke-width="1.05" />
<path d="M352.4 144.8 L353.69 144.82 L354.98 144.22 L356.27 144.51 L357.56 143.98 L358.85 143.93 L360.14 144.06 L361.43 143.53 L362.72 143.4 L364.01 143.48 L365.3 143.47 L366.59 143.41 L367.88 143.2 L369.17 143.23 L370.46 142.83 L371.75 142.99 L373.04 142.35 L374.33 142.32 L375.62 142.39 L376.91 142.14 L378.2 142.3 L379.49 142.14 L380.78 141.97 L382.07 142.06 L383.36 141.79 L384.65 141.55 L385.94 141.49 L387.23 141.68 L388.52 141.62 L389.81 141.12 L391.1 141.42 L392.39 141.41 L393.68 141.06 L394.97 141.01 L396.26 140.7 L397.55 140.83 L398.84 140.73 L400.13 140.72 L401.42 140.3 L402.71 140.79 L404 140.45 L405.29 140.32 L406.58 140.49 L407.87 140.28 L409.16 140.17 L410.45 140.23 L411.74 139.8 L413.03 140.02 L414.32 139.89 L415.61 140.16 L416.9 140.08 L418.19 139.63 L419.48 139.7 L420.77 139.44 L422.06 139.57 L423.35 139.75 L424.64 139.75 L425.93 139.45 L427.22 139.31 L428.51 139.19 L429.8 139.4 L431.09 139.54 L432.38 139.02 L433.67 139.36 L434.96 138.87 L436.25 138.93 L437.54 138.91 L438.83 139.15 L440.12 138.89 L441.41 138.87 L442.7 139 L443.99 138.65 L445.28 138.99 L446.57 138.59 L447.86 138.79 L449.15 138.6 L450.44 138.54 L451.73 138.71 L453.02 138.62 L454.31 138.55 L455.6 138.6" fill="none" stroke="#000" stroke-width="1.05" />
<line x1="352.4" y1="40.6" x2="352.4" y2="158.8" stroke="#555" stroke-width="0.9" />
<line x1="455.6" y1="72.6" x2="455.6" y2="140" stroke="#444" stroke-width="0.9" />
<line x1="349.5" y1="97.4" x2="352.4" y2="97.4" stroke="#222" stroke-width="1.4" />
<line x1="455.6" y1="96.7" x2="488" y2="96.7" stroke="#000" stroke-width="2.4" />
<path d="M396.4 168.6 V164.6 H426.4 V168.6" fill="none" stroke="#111" stroke-width="1.1"/>
<text x="411.6" y="175.2" font-size="8.5" text-anchor="middle" font-weight="normal" fill="#111" stroke="#111" stroke-width="0.3" >100 ms</text>
<path d="M58.3 235.1 H62.2 V377.5 H58.3" fill="none" stroke="#000" stroke-width="1.8"/>
<line x1="58.3" y1="270.7" x2="62.2" y2="270.7" stroke="#000" stroke-width="1.4" />
<line x1="58.3" y1="306.3" x2="62.2" y2="306.3" stroke="#000" stroke-width="1.4" />
<line x1="58.3" y1="341.9" x2="62.2" y2="341.9" stroke="#000" stroke-width="1.4" />
<text x="53.6" y="239.3" font-size="11" text-anchor="end" font-weight="normal" fill="#111" stroke="#111" stroke-width="0.3" >2000</text>
<text x="53.6" y="274.9" font-size="11" text-anchor="end" font-weight="normal" fill="#111" stroke="#111" stroke-width="0.3" >1000</text>
<text x="53.6" y="310.5" font-size="11" text-anchor="end" font-weight="normal" fill="#111" stroke="#111" stroke-width="0.3" >0</text>
<text x="53.6" y="346.1" font-size="11" text-anchor="end" font-weight="normal" fill="#111" stroke="#111" stroke-width="0.3" >-1000</text>
<text x="53.6" y="381.7" font-size="11" text-anchor="end" font-weight="normal" fill="#111" stroke="#111" stroke-width="0.3" >-2000</text>
<text transform="translate(11.6,306.5) rotate(-90)" font-size="13" text-anchor="middle" fill="#111" stroke="#111" stroke-width="0.3">pA</text>
<path d="M95.8 278.2 L96.95 278.63 L98.11 279.01 L99.26 279.35 L100.41 279.64 L101.57 279.9 L102.72 280.13 L103.87 280.33 L105.03 280.51 L106.18 280.65 L107.33 280.77 L108.49 281.01 L109.64 281.02 L110.79 281.22 L111.95 281.19 L113.1 281.33 L114.25 281.16 L115.41 281.47 L116.56 281.67 L117.71 281.5 L118.87 281.7 L120.02 281.69 L121.17 281.24 L122.33 281.82 L123.48 281.71 L124.63 281.49 L125.79 281.3 L126.94 281.98 L128.09 281.68 L129.25 281.89 L130.4 282.03 L131.55 281.9 L132.71 282.08 L133.86 281.66 L135.01 281.99 L136.17 281.72 L137.32 282.11 L138.47 282.07 L139.63 281.45 L140.78 281.48 L141.93 281.55 L143.09 282.15 L144.24 281.73 L145.39 281.89 L146.55 281.63 L147.7 281.79 L148.85 281.7 L150.01 281.67 L151.16 281.86 L152.31 281.86 L153.47 282.12 L154.62 281.94 L155.77 282.14 L156.93 282.08 L158.08 282.19 L159.23 281.93 L160.39 281.53 L161.54 282.09 L162.69 282.17 L163.85 282.12 L165 281.85 L166.15 281.97 L167.31 281.57 L168.46 282.06 L169.61 281.86 L170.77 281.63 L171.92 281.45 L173.07 282.08 L174.23 282.19 L175.38 281.47 L176.53 282.04 L177.69 281.73 L178.84 281.52 L179.99 281.63 L181.15 282.01 L182.3 282.1 L183.45 281.44 L184.61 281.89 L185.76 281.44 L186.91 281.97 L188.07 281.66 L189.22 282.1 L190.37 282.18 L191.53 281.8 L192.68 282.2 L193.83 281.65 L194.99 281.46 L196.14 281.88 L197.29 281.43 L198.45 281.56 L199.6 281.8" fill="none" stroke="#000" stroke-width="1.4" />
<path d="M95.8 281.1 L96.95 281.18 L98.11 281.25 L99.26 281.32 L100.41 281.39 L101.57 281.45 L102.72 281.51 L103.87 281.56 L105.03 281.62 L106.18 281.66 L107.33 281.71 L108.49 281.77 L109.64 281.84 L110.79 281.88 L111.95 281.91 L113.1 281.98 L114.25 282.18 L115.41 282 L116.56 281.98 L117.71 282.2 L118.87 281.89 L120.02 281.95 L121.17 282.52 L122.33 282.18 L123.48 282.22 L124.63 281.81 L125.79 282.16 L126.94 282.31 L128.09 281.88 L129.25 282.38 L130.4 282.41 L131.55 281.96 L132.71 282.43 L133.86 282.32 L135.01 282.5 L136.17 282.25 L137.32 282.55 L138.47 282.59 L139.63 282.02 L140.78 282.07 L141.93 282.57 L143.09 282.81 L144.24 282.25 L145.39 282.42 L146.55 282.54 L147.7 282.33 L148.85 282.37 L150.01 282.33 L151.16 282.39 L152.31 282.57 L153.47 282.34 L154.62 282.41 L155.77 282.73 L156.93 282.14 L158.08 282.58 L159.23 282.72 L160.39 282.38 L161.54 282.32 L162.69 282.78 L163.85 282.34 L165 282.3 L166.15 282.5 L167.31 282.71 L168.46 282.24 L169.61 282.42 L170.77 282.43 L171.92 282.83 L173.07 282.52 L174.23 282.86 L175.38 282.31 L176.53 282.44 L177.69 282.7 L178.84 282.89 L179.99 282.54 L181.15 282.36 L182.3 282.28 L183.45 282.61 L184.61 282.34 L185.76 282.83 L186.91 282.86 L188.07 282.34 L189.22 282.41 L190.37 282.84 L191.53 282.71 L192.68 282.84 L193.83 282.47 L194.99 282.3 L196.14 282.43 L197.29 282.83 L198.45 282.42 L199.6 282.6" fill="none" stroke="#000" stroke-width="1.0" />
<path d="M95.8 282.8 L96.95 282.84 L98.11 282.88 L99.26 282.92 L100.41 282.95 L101.57 282.99 L102.72 283.02 L103.87 283.05 L105.03 283.08 L106.18 283.1 L107.33 283.13 L108.49 283.15 L109.64 283.18 L110.79 283.2 L111.95 283.22 L113.1 283.24 L114.25 283.26 L115.41 283.28 L116.56 283.29 L117.71 283.31 L118.87 283.32 L120.02 283.34 L121.17 283.35 L122.33 283.37 L123.48 283.38 L124.63 283.39 L125.79 283.4 L126.94 283.41 L128.09 283.42 L129.25 283.43 L130.4 283.44 L131.55 283.45 L132.71 283.46 L133.86 283.46 L135.01 283.47 L136.17 283.48 L137.32 283.48 L138.47 283.49 L139.63 283.5 L140.78 283.5 L141.93 283.51 L143.09 283.51 L144.24 283.52 L145.39 283.52 L146.55 283.53 L147.7 283.53 L148.85 283.53 L150.01 283.54 L151.16 283.54 L152.31 283.55 L153.47 283.55 L154.62 283.55 L155.77 283.55 L156.93 283.56 L158.08 283.56 L159.23 283.56 L160.39 283.56 L161.54 283.57 L162.69 283.57 L163.85 283.57 L165 283.57 L166.15 283.57 L167.31 283.58 L168.46 283.58 L169.61 283.58 L170.77 283.58 L171.92 283.58 L173.07 283.58 L174.23 283.58 L175.38 283.59 L176.53 283.59 L177.69 283.59 L178.84 283.59 L179.99 283.59 L181.15 283.59 L182.3 283.59 L183.45 283.59 L184.61 283.59 L185.76 283.59 L186.91 283.59 L188.07 283.6 L189.22 283.6 L190.37 283.6 L191.53 283.6 L192.68 283.6 L193.83 283.6 L194.99 283.6 L196.14 283.6 L197.29 283.6 L198.45 283.6 L199.6 283.6" fill="none" stroke="#000" stroke-width="0.9" />
<path d="M95.8 284.5 L96.95 284.54 L98.11 284.58 L99.26 284.62 L100.41 284.65 L101.57 284.69 L102.72 284.72 L103.87 284.75 L105.03 284.78 L106.18 284.8 L107.33 284.83 L108.49 284.85 L109.64 284.88 L110.79 284.9 L111.95 284.92 L113.1 284.94 L114.25 284.96 L115.41 284.98 L116.56 284.99 L117.71 285.01 L118.87 285.02 L120.02 285.04 L121.17 285.05 L122.33 285.07 L123.48 285.08 L124.63 285.09 L125.79 285.1 L126.94 285.11 L128.09 285.12 L129.25 285.13 L130.4 285.14 L131.55 285.15 L132.71 285.16 L133.86 285.16 L135.01 285.17 L136.17 285.18 L137.32 285.18 L138.47 285.19 L139.63 285.2 L140.78 285.2 L141.93 285.21 L143.09 285.21 L144.24 285.22 L145.39 285.22 L146.55 285.23 L147.7 285.23 L148.85 285.23 L150.01 285.24 L151.16 285.24 L152.31 285.25 L153.47 285.25 L154.62 285.25 L155.77 285.25 L156.93 285.26 L158.08 285.26 L159.23 285.26 L160.39 285.26 L161.54 285.27 L162.69 285.27 L163.85 285.27 L165 285.27 L166.15 285.27 L167.31 285.28 L168.46 285.28 L169.61 285.28 L170.77 285.28 L171.92 285.28 L173.07 285.28 L174.23 285.28 L175.38 285.29 L176.53 285.29 L177.69 285.29 L178.84 285.29 L179.99 285.29 L181.15 285.29 L182.3 285.29 L183.45 285.29 L184.61 285.29 L185.76 285.29 L186.91 285.29 L188.07 285.3 L189.22 285.3 L190.37 285.3 L191.53 285.3 L192.68 285.3 L193.83 285.3 L194.99 285.3 L196.14 285.3 L197.29 285.3 L198.45 285.3 L199.6 285.3" fill="none" stroke="#000" stroke-width="0.9" />
<path d="M95.8 286.4 L96.95 286.43 L98.11 286.46 L99.26 286.49 L100.41 286.51 L101.57 286.54 L102.72 286.56 L103.87 286.59 L105.03 286.61 L106.18 286.63 L107.33 286.65 L108.49 286.67 L109.64 286.68 L110.79 286.7 L111.95 286.71 L113.1 286.73 L114.25 286.74 L115.41 286.76 L116.56 286.77 L117.71 286.78 L118.87 286.79 L120.02 286.8 L121.17 286.81 L122.33 286.82 L123.48 286.83 L124.63 286.84 L125.79 286.85 L126.94 286.86 L128.09 286.87 L129.25 286.87 L130.4 286.88 L131.55 286.89 L132.71 286.89 L133.86 286.9 L135.01 286.9 L136.17 286.91 L137.32 286.91 L138.47 286.92 L139.63 286.92 L140.78 286.93 L141.93 286.93 L143.09 286.93 L144.24 286.94 L145.39 286.94 L146.55 286.95 L147.7 286.95 L148.85 286.95 L150.01 286.95 L151.16 286.96 L152.31 286.96 L153.47 286.96 L154.62 286.96 L155.77 286.97 L156.93 286.97 L158.08 286.97 L159.23 286.97 L160.39 286.97 L161.54 286.97 L162.69 286.98 L163.85 286.98 L165 286.98 L166.15 286.98 L167.31 286.98 L168.46 286.98 L169.61 286.98 L170.77 286.99 L171.92 286.99 L173.07 286.99 L174.23 286.99 L175.38 286.99 L176.53 286.99 L177.69 286.99 L178.84 286.99 L179.99 286.99 L181.15 286.99 L182.3 286.99 L183.45 286.99 L184.61 286.99 L185.76 287 L186.91 287 L188.07 287 L189.22 287 L190.37 287 L191.53 287 L192.68 287 L193.83 287 L194.99 287 L196.14 287 L197.29 287 L198.45 287 L199.6 287" fill="none" stroke="#000" stroke-width="0.9" />
<path d="M95.8 288.6 L96.95 288.64 L98.11 288.67 L99.26 288.7 L100.41 288.73 L101.57 288.76 L102.72 288.79 L103.87 288.82 L105.03 288.84 L106.18 288.87 L107.33 288.89 L108.49 288.91 L109.64 288.93 L110.79 288.95 L111.95 288.97 L113.1 288.98 L114.25 289 L115.41 289.02 L116.56 289.03 L117.71 289.05 L118.87 289.06 L120.02 289.07 L121.17 289.08 L122.33 289.09 L123.48 289.11 L124.63 289.12 L125.79 289.13 L126.94 289.13 L128.09 289.14 L129.25 289.15 L130.4 289.16 L131.55 289.17 L132.71 289.17 L133.86 289.18 L135.01 289.19 L136.17 289.19 L137.32 289.2 L138.47 289.2 L139.63 289.21 L140.78 289.21 L141.93 289.22 L143.09 289.22 L144.24 289.23 L145.39 289.23 L146.55 289.24 L147.7 289.24 L148.85 289.24 L150.01 289.25 L151.16 289.25 L152.31 289.25 L153.47 289.25 L154.62 289.26 L155.77 289.26 L156.93 289.26 L158.08 289.26 L159.23 289.27 L160.39 289.27 L161.54 289.27 L162.69 289.27 L163.85 289.27 L165 289.28 L166.15 289.28 L167.31 289.28 L168.46 289.28 L169.61 289.28 L170.77 289.28 L171.92 289.28 L173.07 289.29 L174.23 289.29 L175.38 289.29 L176.53 289.29 L177.69 289.29 L178.84 289.29 L179.99 289.29 L181.15 289.29 L182.3 289.29 L183.45 289.29 L184.61 289.29 L185.76 289.29 L186.91 289.3 L188.07 289.3 L189.22 289.3 L190.37 289.3 L191.53 289.3 L192.68 289.3 L193.83 289.3 L194.99 289.3 L196.14 289.3 L197.29 289.3 L198.45 289.3 L199.6 289.3" fill="none" stroke="#000" stroke-width="0.9" />
<path d="M95.8 291.6 L96.95 291.59 L98.11 291.59 L99.26 291.59 L100.41 291.58 L101.57 291.58 L102.72 291.57 L103.87 291.57 L105.03 291.57 L106.18 291.56 L107.33 291.56 L108.49 291.56 L109.64 291.55 L110.79 291.55 L111.95 291.55 L113.1 291.55 L114.25 291.54 L115.41 291.54 L116.56 291.54 L117.71 291.54 L118.87 291.53 L120.02 291.53 L121.17 291.53 L122.33 291.53 L123.48 291.53 L124.63 291.53 L125.79 291.52 L126.94 291.52 L128.09 291.52 L129.25 291.52 L130.4 291.52 L131.55 291.52 L132.71 291.52 L133.86 291.52 L135.01 291.52 L136.17 291.52 L137.32 291.51 L138.47 291.51 L139.63 291.51 L140.78 291.51 L141.93 291.51 L143.09 291.51 L144.24 291.51 L145.39 291.51 L146.55 291.51 L147.7 291.51 L148.85 291.51 L150.01 291.51 L151.16 291.51 L152.31 291.51 L153.47 291.51 L154.62 291.51 L155.77 291.51 L156.93 291.51 L158.08 291.51 L159.23 291.5 L160.39 291.5 L161.54 291.5 L162.69 291.5 L163.85 291.5 L165 291.5 L166.15 291.5 L167.31 291.5 L168.46 291.5 L169.61 291.5 L170.77 291.5 L171.92 291.5 L173.07 291.5 L174.23 291.5 L175.38 291.5 L176.53 291.5 L177.69 291.5 L178.84 291.5 L179.99 291.5 L181.15 291.5 L182.3 291.5 L183.45 291.5 L184.61 291.5 L185.76 291.5 L186.91 291.5 L188.07 291.5 L189.22 291.5 L190.37 291.5 L191.53 291.5 L192.68 291.5 L193.83 291.5 L194.99 291.5 L196.14 291.5 L197.29 291.5 L198.45 291.5 L199.6 291.5" fill="none" stroke="#000" stroke-width="0.9" />
<path d="M95.8 294.5 L96.95 294.46 L98.11 294.42 L99.26 294.38 L100.41 294.35 L101.57 294.31 L102.72 294.28 L103.87 294.25 L105.03 294.22 L106.18 294.2 L107.33 294.17 L108.49 294.15 L109.64 294.12 L110.79 294.1 L111.95 294.08 L113.1 294.06 L114.25 294.04 L115.41 294.02 L116.56 294.01 L117.71 293.99 L118.87 293.98 L120.02 293.96 L121.17 293.95 L122.33 293.93 L123.48 293.92 L124.63 293.91 L125.79 293.9 L126.94 293.89 L128.09 293.88 L129.25 293.87 L130.4 293.86 L131.55 293.85 L132.71 293.84 L133.86 293.84 L135.01 293.83 L136.17 293.82 L137.32 293.82 L138.47 293.81 L139.63 293.8 L140.78 293.8 L141.93 293.79 L143.09 293.79 L144.24 293.78 L145.39 293.78 L146.55 293.77 L147.7 293.77 L148.85 293.77 L150.01 293.76 L151.16 293.76 L152.31 293.75 L153.47 293.75 L154.62 293.75 L155.77 293.75 L156.93 293.74 L158.08 293.74 L159.23 293.74 L160.39 293.74 L161.54 293.73 L162.69 293.73 L163.85 293.73 L165 293.73 L166.15 293.73 L167.31 293.72 L168.46 293.72 L169.61 293.72 L170.77 293.72 L171.92 293.72 L173.07 293.72 L174.23 293.72 L175.38 293.71 L176.53 293.71 L177.69 293.71 L178.84 293.71 L179.99 293.71 L181.15 293.71 L182.3 293.71 L183.45 293.71 L184.61 293.71 L185.76 293.71 L186.91 293.71 L188.07 293.7 L189.22 293.7 L190.37 293.7 L191.53 293.7 L192.68 293.7 L193.83 293.7 L194.99 293.7 L196.14 293.7 L197.29 293.7 L198.45 293.7 L199.6 293.7" fill="none" stroke="#000" stroke-width="0.9" />
<path d="M95.8 296.6 L96.95 296.56 L98.11 296.53 L99.26 296.5 L100.41 296.47 L101.57 296.44 L102.72 296.41 L103.87 296.38 L105.03 296.36 L106.18 296.33 L107.33 296.31 L108.49 296.29 L109.64 296.27 L110.79 296.25 L111.95 296.23 L113.1 296.22 L114.25 296.2 L115.41 296.18 L116.56 296.17 L117.71 296.15 L118.87 296.14 L120.02 296.13 L121.17 296.12 L122.33 296.11 L123.48 296.09 L124.63 296.08 L125.79 296.07 L126.94 296.07 L128.09 296.06 L129.25 296.05 L130.4 296.04 L131.55 296.03 L132.71 296.03 L133.86 296.02 L135.01 296.01 L136.17 296.01 L137.32 296 L138.47 296 L139.63 295.99 L140.78 295.99 L141.93 295.98 L143.09 295.98 L144.24 295.97 L145.39 295.97 L146.55 295.96 L147.7 295.96 L148.85 295.96 L150.01 295.95 L151.16 295.95 L152.31 295.95 L153.47 295.95 L154.62 295.94 L155.77 295.94 L156.93 295.94 L158.08 295.94 L159.23 295.93 L160.39 295.93 L161.54 295.93 L162.69 295.93 L163.85 295.93 L165 295.92 L166.15 295.92 L167.31 295.92 L168.46 295.92 L169.61 295.92 L170.77 295.92 L171.92 295.92 L173.07 295.91 L174.23 295.91 L175.38 295.91 L176.53 295.91 L177.69 295.91 L178.84 295.91 L179.99 295.91 L181.15 295.91 L182.3 295.91 L183.45 295.91 L184.61 295.91 L185.76 295.91 L186.91 295.9 L188.07 295.9 L189.22 295.9 L190.37 295.9 L191.53 295.9 L192.68 295.9 L193.83 295.9 L194.99 295.9 L196.14 295.9 L197.29 295.9 L198.45 295.9 L199.6 295.9" fill="none" stroke="#000" stroke-width="0.9" />
<path d="M95.8 299.1 L96.95 299.06 L98.11 299.02 L99.26 298.98 L100.41 298.95 L101.57 298.91 L102.72 298.88 L103.87 298.85 L105.03 298.82 L106.18 298.8 L107.33 298.77 L108.49 298.75 L109.64 298.72 L110.79 298.7 L111.95 298.68 L113.1 298.66 L114.25 298.64 L115.41 298.62 L116.56 298.61 L117.71 298.59 L118.87 298.58 L120.02 298.56 L121.17 298.55 L122.33 298.53 L123.48 298.52 L124.63 298.51 L125.79 298.5 L126.94 298.49 L128.09 298.48 L129.25 298.47 L130.4 298.46 L131.55 298.45 L132.71 298.44 L133.86 298.44 L135.01 298.43 L136.17 298.42 L137.32 298.42 L138.47 298.41 L139.63 298.4 L140.78 298.4 L141.93 298.39 L143.09 298.39 L144.24 298.38 L145.39 298.38 L146.55 298.37 L147.7 298.37 L148.85 298.37 L150.01 298.36 L151.16 298.36 L152.31 298.35 L153.47 298.35 L154.62 298.35 L155.77 298.35 L156.93 298.34 L158.08 298.34 L159.23 298.34 L160.39 298.34 L161.54 298.33 L162.69 298.33 L163.85 298.33 L165 298.33 L166.15 298.33 L167.31 298.32 L168.46 298.32 L169.61 298.32 L170.77 298.32 L171.92 298.32 L173.07 298.32 L174.23 298.32 L175.38 298.31 L176.53 298.31 L177.69 298.31 L178.84 298.31 L179.99 298.31 L181.15 298.31 L182.3 298.31 L183.45 298.31 L184.61 298.31 L185.76 298.31 L186.91 298.31 L188.07 298.3 L189.22 298.3 L190.37 298.3 L191.53 298.3 L192.68 298.3 L193.83 298.3 L194.99 298.3 L196.14 298.3 L197.29 298.3 L198.45 298.3 L199.6 298.3" fill="none" stroke="#000" stroke-width="0.9" />
<path d="M95.8 301.3 L96.95 301.26 L98.11 301.23 L99.26 301.2 L100.41 301.17 L101.57 301.14 L102.72 301.11 L103.87 301.08 L105.03 301.06 L106.18 301.03 L107.33 301.01 L108.49 300.99 L109.64 300.97 L110.79 300.95 L111.95 300.93 L113.1 300.92 L114.25 300.9 L115.41 300.88 L116.56 300.87 L117.71 300.85 L118.87 300.84 L120.02 300.83 L121.17 300.82 L122.33 300.81 L123.48 300.79 L124.63 300.78 L125.79 300.77 L126.94 300.77 L128.09 300.76 L129.25 300.75 L130.4 300.74 L131.55 300.73 L132.71 300.73 L133.86 300.72 L135.01 300.71 L136.17 300.71 L137.32 300.7 L138.47 300.7 L139.63 300.69 L140.78 300.69 L141.93 300.68 L143.09 300.68 L144.24 300.67 L145.39 300.67 L146.55 300.66 L147.7 300.66 L148.85 300.66 L150.01 300.65 L151.16 300.65 L152.31 300.65 L153.47 300.65 L154.62 300.64 L155.77 300.64 L156.93 300.64 L158.08 300.64 L159.23 300.63 L160.39 300.63 L161.54 300.63 L162.69 300.63 L163.85 300.63 L165 300.62 L166.15 300.62 L167.31 300.62 L168.46 300.62 L169.61 300.62 L170.77 300.62 L171.92 300.62 L173.07 300.61 L174.23 300.61 L175.38 300.61 L176.53 300.61 L177.69 300.61 L178.84 300.61 L179.99 300.61 L181.15 300.61 L182.3 300.61 L183.45 300.61 L184.61 300.61 L185.76 300.61 L186.91 300.6 L188.07 300.6 L189.22 300.6 L190.37 300.6 L191.53 300.6 L192.68 300.6 L193.83 300.6 L194.99 300.6 L196.14 300.6 L197.29 300.6 L198.45 300.6 L199.6 300.6" fill="none" stroke="#000" stroke-width="0.9" />
<path d="M95.8 304.2 L96.95 304.13 L98.11 304.06 L99.26 303.99 L100.41 303.93 L101.57 303.87 L102.72 303.82 L103.87 303.77 L105.03 303.72 L106.18 303.67 L107.33 303.62 L108.49 303.58 L109.64 303.54 L110.79 303.5 L111.95 303.47 L113.1 303.43 L114.25 303.4 L115.41 303.37 L116.56 303.34 L117.71 303.31 L118.87 303.28 L120.02 303.26 L121.17 303.23 L122.33 303.21 L123.48 303.19 L124.63 303.17 L125.79 303.15 L126.94 303.13 L128.09 303.11 L129.25 303.1 L130.4 303.08 L131.55 303.07 L132.71 303.05 L133.86 303.04 L135.01 303.03 L136.17 303.01 L137.32 303 L138.47 302.99 L139.63 302.98 L140.78 302.97 L141.93 302.96 L143.09 302.95 L144.24 302.94 L145.39 302.94 L146.55 302.93 L147.7 302.92 L148.85 302.91 L150.01 302.91 L151.16 302.9 L152.31 302.9 L153.47 302.89 L154.62 302.88 L155.77 302.88 L156.93 302.88 L158.08 302.87 L159.23 302.87 L160.39 302.86 L161.54 302.86 L162.69 302.85 L163.85 302.85 L165 302.85 L166.15 302.85 L167.31 302.84 L168.46 302.84 L169.61 302.84 L170.77 302.83 L171.92 302.83 L173.07 302.83 L174.23 302.83 L175.38 302.83 L176.53 302.82 L177.69 302.82 L178.84 302.82 L179.99 302.82 L181.15 302.82 L182.3 302.82 L183.45 302.81 L184.61 302.81 L185.76 302.81 L186.91 302.81 L188.07 302.81 L189.22 302.81 L190.37 302.81 L191.53 302.81 L192.68 302.8 L193.83 302.8 L194.99 302.8 L196.14 302.8 L197.29 302.8 L198.45 302.8 L199.6 302.8" fill="none" stroke="#000" stroke-width="0.9" />
<path d="M95.8 307.3 L96.95 307.2 L98.11 307.1 L99.26 307.01 L100.41 306.92 L101.57 306.83 L102.72 306.76 L103.87 306.68 L105.03 306.61 L106.18 306.54 L107.33 306.48 L108.49 306.42 L109.64 306.36 L110.79 306.3 L111.95 306.25 L113.1 306.2 L114.25 306.15 L115.41 306.11 L116.56 306.07 L117.71 306.03 L118.87 305.99 L120.02 305.95 L121.17 305.92 L122.33 305.89 L123.48 305.86 L124.63 305.83 L125.79 305.8 L126.94 305.77 L128.09 305.75 L129.25 305.72 L130.4 305.7 L131.55 305.68 L132.71 305.66 L133.86 305.64 L135.01 305.62 L136.17 305.6 L137.32 305.59 L138.47 305.57 L139.63 305.56 L140.78 305.54 L141.93 305.53 L143.09 305.52 L144.24 305.51 L145.39 305.49 L146.55 305.48 L147.7 305.47 L148.85 305.46 L150.01 305.45 L151.16 305.44 L152.31 305.44 L153.47 305.43 L154.62 305.42 L155.77 305.41 L156.93 305.41 L158.08 305.4 L159.23 305.39 L160.39 305.39 L161.54 305.38 L162.69 305.38 L163.85 305.37 L165 305.37 L166.15 305.36 L167.31 305.36 L168.46 305.36 L169.61 305.35 L170.77 305.35 L171.92 305.35 L173.07 305.34 L174.23 305.34 L175.38 305.34 L176.53 305.33 L177.69 305.33 L178.84 305.33 L179.99 305.33 L181.15 305.32 L182.3 305.32 L183.45 305.32 L184.61 305.32 L185.76 305.32 L186.91 305.31 L188.07 305.31 L189.22 305.31 L190.37 305.31 L191.53 305.31 L192.68 305.31 L193.83 305.31 L194.99 305.3 L196.14 305.3 L197.29 305.3 L198.45 305.3 L199.6 305.3" fill="none" stroke="#000" stroke-width="0.9" />
<path d="M95.8 310.4 L96.95 310.27 L98.11 310.14 L99.26 310.02 L100.41 309.9 L101.57 309.8 L102.72 309.69 L103.87 309.59 L105.03 309.5 L106.18 309.41 L107.33 309.33 L108.49 309.25 L109.64 309.18 L110.79 309.1 L111.95 309.04 L113.1 308.97 L114.25 308.91 L115.41 308.85 L116.56 308.8 L117.71 308.75 L118.87 308.7 L120.02 308.65 L121.17 308.6 L122.33 308.56 L123.48 308.52 L124.63 308.48 L125.79 308.45 L126.94 308.41 L128.09 308.38 L129.25 308.35 L130.4 308.32 L131.55 308.29 L132.71 308.27 L133.86 308.24 L135.01 308.22 L136.17 308.2 L137.32 308.17 L138.47 308.15 L139.63 308.13 L140.78 308.12 L141.93 308.1 L143.09 308.08 L144.24 308.07 L145.39 308.05 L146.55 308.04 L147.7 308.02 L148.85 308.01 L150.01 308 L151.16 307.99 L152.31 307.98 L153.47 307.97 L154.62 307.96 L155.77 307.95 L156.93 307.94 L158.08 307.93 L159.23 307.92 L160.39 307.92 L161.54 307.91 L162.69 307.9 L163.85 307.9 L165 307.89 L166.15 307.88 L167.31 307.88 L168.46 307.87 L169.61 307.87 L170.77 307.86 L171.92 307.86 L173.07 307.85 L174.23 307.85 L175.38 307.85 L176.53 307.84 L177.69 307.84 L178.84 307.84 L179.99 307.83 L181.15 307.83 L182.3 307.83 L183.45 307.83 L184.61 307.82 L185.76 307.82 L186.91 307.82 L188.07 307.82 L189.22 307.81 L190.37 307.81 L191.53 307.81 L192.68 307.81 L193.83 307.81 L194.99 307.81 L196.14 307.8 L197.29 307.8 L198.45 307.8 L199.6 307.8" fill="none" stroke="#000" stroke-width="0.9" />
<path d="M95.8 313.6 L96.95 313.43 L98.11 313.27 L99.26 313.12 L100.41 312.97 L101.57 312.83 L102.72 312.7 L103.87 312.58 L105.03 312.46 L106.18 312.35 L107.33 312.24 L108.49 312.14 L109.64 312.05 L110.79 311.95 L111.95 311.87 L113.1 311.79 L114.25 311.71 L115.41 311.64 L116.56 311.57 L117.71 311.5 L118.87 311.44 L120.02 311.38 L121.17 311.32 L122.33 311.27 L123.48 311.22 L124.63 311.17 L125.79 311.12 L126.94 311.08 L128.09 311.04 L129.25 311 L130.4 310.96 L131.55 310.93 L132.71 310.89 L133.86 310.86 L135.01 310.83 L136.17 310.8 L137.32 310.77 L138.47 310.75 L139.63 310.72 L140.78 310.7 L141.93 310.68 L143.09 310.66 L144.24 310.64 L145.39 310.62 L146.55 310.6 L147.7 310.58 L148.85 310.57 L150.01 310.55 L151.16 310.54 L152.31 310.53 L153.47 310.51 L154.62 310.5 L155.77 310.49 L156.93 310.48 L158.08 310.47 L159.23 310.46 L160.39 310.45 L161.54 310.44 L162.69 310.43 L163.85 310.42 L165 310.41 L166.15 310.41 L167.31 310.4 L168.46 310.39 L169.61 310.39 L170.77 310.38 L171.92 310.37 L173.07 310.37 L174.23 310.36 L175.38 310.36 L176.53 310.36 L177.69 310.35 L178.84 310.35 L179.99 310.34 L181.15 310.34 L182.3 310.34 L183.45 310.33 L184.61 310.33 L185.76 310.33 L186.91 310.32 L188.07 310.32 L189.22 310.32 L190.37 310.32 L191.53 310.31 L192.68 310.31 L193.83 310.31 L194.99 310.31 L196.14 310.31 L197.29 310.3 L198.45 310.3 L199.6 310.3" fill="none" stroke="#000" stroke-width="0.9" />
<path d="M95.8 316.7 L96.95 316.5 L98.11 316.31 L99.26 316.13 L100.41 315.96 L101.57 315.79 L102.72 315.64 L103.87 315.49 L105.03 315.35 L106.18 315.22 L107.33 315.09 L108.49 314.98 L109.64 314.86 L110.79 314.76 L111.95 314.65 L113.1 314.56 L114.25 314.47 L115.41 314.38 L116.56 314.3 L117.71 314.22 L118.87 314.14 L120.02 314.07 L121.17 314.01 L122.33 313.94 L123.48 313.88 L124.63 313.83 L125.79 313.77 L126.94 313.72 L128.09 313.67 L129.25 313.63 L130.4 313.58 L131.55 313.54 L132.71 313.5 L133.86 313.46 L135.01 313.43 L136.17 313.39 L137.32 313.36 L138.47 313.33 L139.63 313.3 L140.78 313.27 L141.93 313.25 L143.09 313.22 L144.24 313.2 L145.39 313.18 L146.55 313.16 L147.7 313.14 L148.85 313.12 L150.01 313.1 L151.16 313.08 L152.31 313.07 L153.47 313.05 L154.62 313.04 L155.77 313.02 L156.93 313.01 L158.08 313 L159.23 312.99 L160.39 312.97 L161.54 312.96 L162.69 312.95 L163.85 312.94 L165 312.93 L166.15 312.93 L167.31 312.92 L168.46 312.91 L169.61 312.9 L170.77 312.9 L171.92 312.89 L173.07 312.88 L174.23 312.88 L175.38 312.87 L176.53 312.87 L177.69 312.86 L178.84 312.86 L179.99 312.85 L181.15 312.85 L182.3 312.84 L183.45 312.84 L184.61 312.83 L185.76 312.83 L186.91 312.83 L188.07 312.82 L189.22 312.82 L190.37 312.82 L191.53 312.82 L192.68 312.81 L193.83 312.81 L194.99 312.81 L196.14 312.81 L197.29 312.8 L198.45 312.8 L199.6 312.8" fill="none" stroke="#000" stroke-width="0.9" />
<path d="M95.8 319.8 L96.95 319.57 L98.11 319.35 L99.26 319.14 L100.41 318.94 L101.57 318.75 L102.72 318.57 L103.87 318.41 L105.03 318.24 L106.18 318.09 L107.33 317.95 L108.49 317.81 L109.64 317.68 L110.79 317.56 L111.95 317.44 L113.1 317.33 L114.25 317.22 L115.41 317.13 L116.56 317.02 L117.71 316.96 L118.87 316.86 L120.02 316.75 L121.17 316.68 L122.33 316.65 L123.48 316.41 L124.63 316.42 L125.79 316.51 L126.94 316.26 L128.09 316.29 L129.25 316.13 L130.4 316.12 L131.55 316.24 L132.71 316.26 L133.86 316.37 L135.01 316.01 L136.17 315.78 L137.32 315.83 L138.47 315.6 L139.63 315.7 L140.78 315.91 L141.93 315.89 L143.09 315.61 L144.24 315.54 L145.39 315.45 L146.55 315.49 L147.7 315.69 L148.85 315.5 L150.01 315.91 L151.16 315.67 L152.31 315.5 L153.47 315.54 L154.62 315.25 L155.77 315.72 L156.93 315.72 L158.08 315.43 L159.23 315.67 L160.39 315.34 L161.54 315.29 L162.69 315.29 L163.85 315.25 L165 315.53 L166.15 315.54 L167.31 315.59 L168.46 315.15 L169.61 315.6 L170.77 315.39 L171.92 315.32 L173.07 315.4 L174.23 315.34 L175.38 315.17 L176.53 315.3 L177.69 315.47 L178.84 315.51 L179.99 315.65 L181.15 315.14 L182.3 315.62 L183.45 315.55 L184.61 315.49 L185.76 315.67 L186.91 315.08 L188.07 315.52 L189.22 315.6 L190.37 315.06 L191.53 315.38 L192.68 315.63 L193.83 315.17 L194.99 315.56 L196.14 315.59 L197.29 315.26 L198.45 315.05 L199.6 315.3" fill="none" stroke="#000" stroke-width="0.9" />
<path d="M95.8 322.5 L96.95 322.2 L98.11 321.91 L99.26 321.63 L100.41 321.37 L101.57 321.13 L102.72 320.89 L103.87 320.67 L105.03 320.46 L106.18 320.26 L107.33 320.07 L108.49 319.89 L109.64 319.72 L110.79 319.56 L111.95 319.4 L113.1 319.26 L114.25 319.12 L115.41 318.98 L116.56 318.89 L117.71 318.72 L118.87 318.69 L120.02 318.5 L121.17 318.38 L122.33 318.26 L123.48 318.25 L124.63 318.17 L125.79 318.03 L126.94 318 L128.09 317.83 L129.25 318.02 L130.4 318.02 L131.55 317.87 L132.71 317.86 L133.86 317.32 L135.01 317.37 L136.17 317.29 L137.32 317.21 L138.47 317.73 L139.63 317.64 L140.78 317.61 L141.93 317.32 L143.09 316.97 L144.24 317.15 L145.39 316.86 L146.55 317.42 L147.7 316.95 L148.85 316.93 L150.01 317.37 L151.16 316.82 L152.31 317.3 L153.47 316.85 L154.62 317.07 L155.77 316.66 L156.93 317.2 L158.08 316.83 L159.23 316.77 L160.39 316.97 L161.54 316.91 L162.69 316.66 L163.85 316.55 L165 316.86 L166.15 316.46 L167.31 317.04 L168.46 316.66 L169.61 316.52 L170.77 316.62 L171.92 316.46 L173.07 316.6 L174.23 316.75 L175.38 316.64 L176.53 316.58 L177.69 316.54 L178.84 316.67 L179.99 316.87 L181.15 316.63 L182.3 316.85 L183.45 316.65 L184.61 316.39 L185.76 316.42 L186.91 316.88 L188.07 316.62 L189.22 316.55 L190.37 316.64 L191.53 316.87 L192.68 316.53 L193.83 316.52 L194.99 316.52 L196.14 316.27 L197.29 316.64 L198.45 316.59 L199.6 316.6" fill="none" stroke="#000" stroke-width="0.9" />
<path d="M95.8 325 L96.95 324.62 L98.11 324.26 L99.26 323.91 L100.41 323.59 L101.57 323.28 L102.72 322.98 L103.87 322.71 L105.03 322.44 L106.18 322.19 L107.33 321.95 L108.49 321.73 L109.64 321.51 L110.79 321.31 L111.95 321.12 L113.1 320.93 L114.25 320.76 L115.41 320.6 L116.56 320.42 L117.71 320.28 L118.87 320.1 L120.02 320.06 L121.17 319.88 L122.33 319.83 L123.48 319.74 L124.63 319.71 L125.79 319.51 L126.94 319.5 L128.09 319.28 L129.25 318.96 L130.4 319.29 L131.55 318.77 L132.71 318.67 L133.86 319.08 L135.01 318.64 L136.17 318.84 L137.32 318.33 L138.47 318.4 L139.63 318.7 L140.78 318.18 L141.93 318.46 L143.09 318.71 L144.24 318.16 L145.39 318.46 L146.55 318.45 L147.7 318.32 L148.85 318.39 L150.01 318.31 L151.16 317.8 L152.31 317.89 L153.47 318.1 L154.62 318.38 L155.77 317.82 L156.93 318.06 L158.08 317.71 L159.23 318.19 L160.39 317.89 L161.54 317.92 L162.69 318.01 L163.85 317.62 L165 318.01 L166.15 318.05 L167.31 318.07 L168.46 317.65 L169.61 317.61 L170.77 317.55 L171.92 318.05 L173.07 317.71 L174.23 317.67 L175.38 317.75 L176.53 317.86 L177.69 317.59 L178.84 317.59 L179.99 317.88 L181.15 317.88 L182.3 317.54 L183.45 317.37 L184.61 317.96 L185.76 317.82 L186.91 317.72 L188.07 317.58 L189.22 317.96 L190.37 317.59 L191.53 317.43 L192.68 317.34 L193.83 317.52 L194.99 317.69 L196.14 317.52 L197.29 317.92 L198.45 317.71 L199.6 317.6" fill="none" stroke="#000" stroke-width="0.9" />
<path d="M95.8 327.7 L96.95 327.23 L98.11 326.79 L99.26 326.36 L100.41 325.96 L101.57 325.58 L102.72 325.22 L103.87 324.88 L105.03 324.55 L106.18 324.25 L107.33 323.95 L108.49 323.68 L109.64 323.41 L110.79 323.16 L111.95 322.93 L113.1 322.7 L114.25 322.49 L115.41 322.28 L116.56 322.08 L117.71 321.87 L118.87 321.74 L120.02 321.59 L121.17 321.31 L122.33 321.19 L123.48 321.04 L124.63 321.15 L125.79 320.85 L126.94 320.77 L128.09 320.54 L129.25 320.61 L130.4 320.59 L131.55 320.42 L132.71 319.92 L133.86 320.11 L135.01 320.05 L136.17 319.66 L137.32 320.11 L138.47 319.71 L139.63 319.63 L140.78 319.79 L141.93 319.71 L143.09 319.59 L144.24 319.79 L145.39 319.49 L146.55 319.32 L147.7 319.08 L148.85 319.38 L150.01 319.2 L151.16 319.29 L152.31 319.11 L153.47 318.84 L154.62 318.83 L155.77 318.88 L156.93 318.8 L158.08 319.31 L159.23 319.09 L160.39 318.82 L161.54 319.13 L162.69 319.05 L163.85 318.63 L165 319.09 L166.15 318.7 L167.31 319.22 L168.46 318.61 L169.61 318.69 L170.77 318.65 L171.92 319.06 L173.07 319.01 L174.23 318.83 L175.38 318.52 L176.53 318.7 L177.69 318.88 L178.84 318.42 L179.99 319.01 L181.15 318.95 L182.3 319 L183.45 318.83 L184.61 318.76 L185.76 319 L186.91 318.5 L188.07 318.52 L189.22 318.39 L190.37 318.42 L191.53 318.85 L192.68 318.35 L193.83 318.8 L194.99 318.55 L196.14 318.88 L197.29 318.79 L198.45 318.74 L199.6 318.6" fill="none" stroke="#000" stroke-width="0.9" />
<path d="M95.8 330.3 L96.95 329.74 L98.11 329.22 L99.26 328.71 L100.41 328.24 L101.57 327.79 L102.72 327.36 L103.87 326.95 L105.03 326.57 L106.18 326.2 L107.33 325.85 L108.49 325.52 L109.64 325.21 L110.79 324.92 L111.95 324.63 L113.1 324.37 L114.25 324.11 L115.41 323.87 L116.56 323.63 L117.71 323.46 L118.87 323.15 L120.02 323.05 L121.17 322.84 L122.33 322.59 L123.48 322.52 L124.63 322.33 L125.79 322.37 L126.94 322.21 L128.09 321.95 L129.25 321.97 L130.4 321.87 L131.55 321.35 L132.71 321.64 L133.86 321.55 L135.01 321.58 L136.17 321.32 L137.32 320.98 L138.47 320.76 L139.63 321 L140.78 320.61 L141.93 320.92 L143.09 320.72 L144.24 320.84 L145.39 320.45 L146.55 320.35 L147.7 320.72 L148.85 320.49 L150.01 320.24 L151.16 320.33 L152.31 320.19 L153.47 320.3 L154.62 320.17 L155.77 319.97 L156.93 320.42 L158.08 320.31 L159.23 320.19 L160.39 319.83 L161.54 319.74 L162.69 320.09 L163.85 320.12 L165 319.98 L166.15 319.65 L167.31 319.98 L168.46 319.82 L169.61 319.69 L170.77 319.83 L171.92 319.71 L173.07 319.83 L174.23 319.89 L175.38 320.03 L176.53 319.41 L177.69 319.72 L178.84 319.96 L179.99 319.75 L181.15 319.68 L182.3 319.86 L183.45 319.28 L184.61 319.8 L185.76 319.67 L186.91 319.63 L188.07 319.43 L189.22 319.64 L190.37 319.29 L191.53 319.56 L192.68 319.37 L193.83 319.83 L194.99 319.74 L196.14 319.5 L197.29 319.69 L198.45 319.42 L199.6 319.5" fill="none" stroke="#000" stroke-width="0.9" />
<path d="M95.8 333.4 L96.95 332.73 L98.11 332.09 L99.26 331.49 L100.41 330.92 L101.57 330.38 L102.72 329.86 L103.87 329.37 L105.03 328.91 L106.18 328.47 L107.33 328.05 L108.49 327.65 L109.64 327.28 L110.79 326.92 L111.95 326.58 L113.1 326.26 L114.25 325.95 L115.41 325.66 L116.56 325.41 L117.71 325.12 L118.87 324.82 L120.02 324.73 L121.17 324.33 L122.33 324.15 L123.48 324.09 L124.63 323.69 L125.79 323.66 L126.94 323.62 L128.09 323.35 L129.25 323.08 L130.4 323.14 L131.55 323.05 L132.71 322.78 L133.86 322.69 L135.01 322.37 L136.17 322.31 L137.32 322.61 L138.47 322.5 L139.63 321.72 L140.78 321.77 L141.93 321.7 L143.09 322.02 L144.24 321.52 L145.39 321.43 L146.55 321.78 L147.7 321.29 L148.85 321.79 L150.01 321.37 L151.16 321.62 L152.31 321.51 L153.47 321.03 L154.62 321.39 L155.77 321.08 L156.93 320.9 L158.08 320.74 L159.23 321.16 L160.39 321.02 L161.54 320.81 L162.69 321.14 L163.85 320.67 L165 320.81 L166.15 320.53 L167.31 320.69 L168.46 321.03 L169.61 320.74 L170.77 320.47 L171.92 320.51 L173.07 320.78 L174.23 320.5 L175.38 320.91 L176.53 320.31 L177.69 320.86 L178.84 320.67 L179.99 320.79 L181.15 320.45 L182.3 320.24 L183.45 320.3 L184.61 320.6 L185.76 320.17 L186.91 320.22 L188.07 320.68 L189.22 320.74 L190.37 320.71 L191.53 320.69 L192.68 320.48 L193.83 320.7 L194.99 320.57 L196.14 320.46 L197.29 320.36 L198.45 320.07 L199.6 320.4" fill="none" stroke="#000" stroke-width="0.9" />
<path d="M95.8 336.6 L96.95 335.81 L98.11 335.05 L99.26 334.34 L100.41 333.66 L101.57 333.02 L102.72 332.41 L103.87 331.83 L105.03 331.28 L106.18 330.76 L107.33 330.26 L108.49 329.79 L109.64 329.34 L110.79 328.92 L111.95 328.52 L113.1 328.14 L114.25 327.78 L115.41 327.43 L116.56 327.11 L117.71 326.76 L118.87 326.47 L120.02 326.21 L121.17 326.02 L122.33 325.61 L123.48 325.6 L124.63 325.09 L125.79 325.21 L126.94 324.72 L128.09 324.79 L129.25 324.62 L130.4 324.53 L131.55 324.1 L132.71 324.09 L133.86 323.68 L135.01 323.91 L136.17 323.27 L137.32 323.68 L138.47 323.36 L139.63 322.87 L140.78 323.38 L141.93 322.84 L143.09 322.57 L144.24 322.61 L145.39 322.36 L146.55 322.46 L147.7 322.68 L148.85 322.8 L150.01 322.48 L151.16 322.56 L152.31 322.48 L153.47 322.34 L154.62 322.05 L155.77 321.9 L156.93 321.79 L158.08 322.01 L159.23 321.72 L160.39 322.05 L161.54 321.72 L162.69 321.86 L163.85 321.8 L165 321.82 L166.15 321.45 L167.31 321.49 L168.46 321.76 L169.61 321.4 L170.77 321.7 L171.92 321.88 L173.07 321.45 L174.23 321.82 L175.38 321.56 L176.53 321.77 L177.69 321.46 L178.84 321.59 L179.99 321.53 L181.15 321.17 L182.3 321.38 L183.45 321.41 L184.61 321.31 L185.76 321.43 L186.91 321.59 L188.07 321.5 L189.22 321.5 L190.37 321.02 L191.53 321.4 L192.68 321.34 L193.83 321.55 L194.99 320.88 L196.14 320.99 L197.29 321.55 L198.45 321.12 L199.6 321.2" fill="none" stroke="#000" stroke-width="0.9" />
<line x1="95.6" y1="245" x2="95.6" y2="346.3" stroke="#555" stroke-width="0.9" />
<line x1="199.6" y1="281.9" x2="199.6" y2="355.2" stroke="#444" stroke-width="0.9" />
<rect x="93.3" y="313" width="2.4" height="2.8" fill="#000"/>
<path d="M199.8 308 C204 309 209 309.9 215 310.2 L231.8 311.2 L231.8 318.6 L215 319.2 L199.8 320 Z" fill="#111"/>
<path d="M199.8 309.3 L200.87 309.61 L201.93 309.83 L203 310.12 L204.07 310.42 L205.13 310.83 L206.2 310.77 L207.27 311.05 L208.33 310.93 L209.4 311.25 L210.47 311.29 L211.53 311.44 L212.6 311.57 L213.67 311.23 L214.73 311.73 L215.8 311.59 L216.87 311.45 L217.93 311.59 L219 311.43 L220.07 311.52 L221.13 311.85 L222.2 311.8 L223.27 311.89 L224.33 311.55 L225.4 311.54 L226.47 311.68 L227.53 311.75 L228.6 311.86 L229.67 311.66 L230.73 311.89 L231.8 311.82" fill="none" stroke="#000" stroke-width="0.5" />
<path d="M199.8 310.39 L200.87 310.94 L201.93 310.84 L203 311.32 L204.07 311.3 L205.13 311.39 L206.2 311.75 L207.27 311.89 L208.33 312.04 L209.4 312 L210.47 312.36 L211.53 312.35 L212.6 312.09 L213.67 312.06 L214.73 312.58 L215.8 312.34 L216.87 312.22 L217.93 312.28 L219 312.56 L220.07 312.32 L221.13 312.44 L222.2 312.6 L223.27 312.45 L224.33 312.61 L225.4 312.77 L226.47 312.7 L227.53 312.62 L228.6 312.63 L229.67 312.48 L230.73 312.64 L231.8 312.65" fill="none" stroke="#000" stroke-width="0.5" />
<path d="M199.8 311.84 L200.87 312.02 L201.93 312.35 L203 312.24 L204.07 312.64 L205.13 312.89 L206.2 312.53 L207.27 312.73 L208.33 313.17 L209.4 312.79 L210.47 313.21 L211.53 313.14 L212.6 312.93 L213.67 313.24 L214.73 312.96 L215.8 313.41 L216.87 313.16 L217.93 313.49 L219 313.5 L220.07 313.13 L221.13 313.28 L222.2 313.16 L223.27 313.47 L224.33 313.15 L225.4 313.15 L226.47 313.17 L227.53 313.55 L228.6 313.25 L229.67 313.29 L230.73 313.35 L231.8 313.41" fill="none" stroke="#777" stroke-width="0.5" />
<path d="M199.8 313.06 L200.87 313.48 L201.93 313.31 L203 313.49 L204.07 313.78 L205.13 313.56 L206.2 313.6 L207.27 313.99 L208.33 313.78 L209.4 314.12 L210.47 314.12 L211.53 313.93 L212.6 313.94 L213.67 313.85 L214.73 314.26 L215.8 314.06 L216.87 314.03 L217.93 313.96 L219 313.99 L220.07 314.33 L221.13 313.96 L222.2 314.18 L223.27 314.22 L224.33 314.18 L225.4 314.17 L226.47 314.12 L227.53 314.02 L228.6 314.34 L229.67 314.38 L230.73 314.22 L231.8 314.06" fill="none" stroke="#000" stroke-width="0.5" />
<path d="M199.8 314.61 L200.87 314.34 L201.93 314.39 L203 314.68 L204.07 314.84 L205.13 314.76 L206.2 314.56 L207.27 315.03 L208.33 314.65 L209.4 314.77 L210.47 315.11 L211.53 315.03 L212.6 315.03 L213.67 314.71 L214.73 315.1 L215.8 314.89 L216.87 314.7 L217.93 315.1 L219 315.18 L220.07 314.74 L221.13 314.95 L222.2 315.18 L223.27 314.9 L224.33 314.88 L225.4 315.12 L226.47 314.96 L227.53 315.24 L228.6 315.17 L229.67 315.17 L230.73 315.1 L231.8 314.84" fill="none" stroke="#777" stroke-width="0.5" />
<path d="M199.8 315.79 L200.87 315.75 L201.93 315.72 L203 315.77 L204.07 315.65 L205.13 315.6 L206.2 315.97 L207.27 315.7 L208.33 315.57 L209.4 316.01 L210.47 315.78 L211.53 315.87 L212.6 315.7 L213.67 315.61 L214.73 315.7 L215.8 315.96 L216.87 315.68 L217.93 316 L219 315.7 L220.07 315.99 L221.13 315.63 L222.2 315.77 L223.27 315.61 L224.33 315.62 L225.4 315.81 L226.47 315.73 L227.53 315.82 L228.6 315.66 L229.67 315.7 L230.73 315.71 L231.8 316" fill="none" stroke="#777" stroke-width="0.5" />
<path d="M199.8 316.79 L200.87 316.9 L201.93 317.07 L203 316.89 L204.07 316.7 L205.13 317.04 L206.2 316.56 L207.27 316.56 L208.33 316.48 L209.4 316.67 L210.47 316.87 L211.53 316.57 L212.6 316.56 L213.67 316.8 L214.73 316.44 L215.8 316.4 L216.87 316.72 L217.93 316.42 L219 316.64 L220.07 316.44 L221.13 316.67 L222.2 316.79 L223.27 316.59 L224.33 316.5 L225.4 316.67 L226.47 316.71 L227.53 316.39 L228.6 316.48 L229.67 316.54 L230.73 316.61 L231.8 316.49" fill="none" stroke="#000" stroke-width="0.5" />
<path d="M199.8 318.38 L200.87 318.05 L201.93 318.27 L203 317.9 L204.07 317.75 L205.13 317.61 L206.2 317.57 L207.27 317.57 L208.33 317.86 L209.4 317.59 L210.47 317.57 L211.53 317.8 L212.6 317.78 L213.67 317.66 L214.73 317.38 L215.8 317.41 L216.87 317.48 L217.93 317.35 L219 317.38 L220.07 317.31 L221.13 317.31 L222.2 317.56 L223.27 317.48 L224.33 317.4 L225.4 317.41 L226.47 317.48 L227.53 317.51 L228.6 317.18 L229.67 317.58 L230.73 317.39 L231.8 317.33" fill="none" stroke="#000" stroke-width="0.5" />
<path d="M199.8 319.83 L200.87 319.53 L201.93 319.16 L203 318.85 L204.07 318.93 L205.13 318.82 L206.2 318.7 L207.27 318.48 L208.33 318.65 L209.4 318.43 L210.47 318.64 L211.53 318.48 L212.6 318.32 L213.67 318.56 L214.73 318.34 L215.8 318.13 L216.87 318.21 L217.93 318.08 L219 318.25 L220.07 318.48 L221.13 318.49 L222.2 318.33 L223.27 318.08 L224.33 318.11 L225.4 318.09 L226.47 318.17 L227.53 318.3 L228.6 317.98 L229.67 318.21 L230.73 318.18 L231.8 318.3" fill="none" stroke="#000" stroke-width="0.5" />
<path d="M134 373.8 V370.3 H163.8 V373.8" fill="none" stroke="#111" stroke-width="1.1"/>
<text x="149" y="380.3" font-size="8.5" text-anchor="middle" font-weight="normal" fill="#111" stroke="#111" stroke-width="0.3" >100 ms</text>
<path d="M379.1 234.4 H383.3 V376.3 H379.1" fill="none" stroke="#000" stroke-width="1.8"/>
<path d="M281.3 285 V281.5 H485.6 V285" fill="none" stroke="#000" stroke-width="1.8"/>
<line x1="332.3" y1="281.5" x2="332.3" y2="285" stroke="#000" stroke-width="1.6" />
<line x1="433.9" y1="281.5" x2="433.9" y2="285" stroke="#000" stroke-width="1.6" />
<text x="375.2" y="238.2" font-size="11" text-anchor="end" font-weight="normal" fill="#111" stroke="#111" stroke-width="0.3" >800</text>
<text x="376" y="380.2" font-size="11" text-anchor="end" font-weight="normal" fill="#111" stroke="#111" stroke-width="0.3" >-1600</text>
<text x="290.3" y="275.6" font-size="11" text-anchor="end" font-weight="normal" fill="#111" stroke="#111" stroke-width="0.3" >-100</text>
<text x="494" y="298.2" font-size="11" text-anchor="end" font-weight="normal" fill="#111" stroke="#111" stroke-width="0.3" >100</text>
<text x="388.2" y="237.6" font-size="13.6" text-anchor="start" font-weight="normal" fill="#111" stroke="#111" stroke-width="0.3" >I (pA)</text>
<text x="465.6" y="312.6" font-size="13.4" text-anchor="start" font-weight="normal" fill="#111" stroke="#111" stroke-width="0.3" >Vm (mV)</text>
<path d="M281.4 352.6 L291.56 342.2 L301.72 333.1 L311.88 326 L322.04 317.9 L332.2 311.2 L342.36 303.9 L352.52 297.7 L362.68 292.4 L372.84 286.4 L383 281.2 L393.16 274.4 L403.32 269 L413.48 264.2 L423.64 259.6 L433.8 255.5 L443.96 251.6 L454.12 249 L464.28 245.8 L474.44 243.3 L484.6 242.7" fill="none" stroke="#000" stroke-width="1.2" />
<path d="M281.4 317.4 L291.56 311.9 L301.72 306.9 L311.88 303 L322.04 299.1 L332.2 296.4 L342.36 292 L352.52 289.8 L362.68 286.4 L372.84 282.4 L383 280.2 L393.16 278.9 L403.32 277.2 L413.48 275.9 L423.64 275.2 L433.8 274.6 L443.96 274.4 L454.12 274.3 L464.28 274.3 L474.44 274.3 L484.6 274.3" fill="none" stroke="#000" stroke-width="1.2" />
<path d="M281.4 300.4 L291.56 299.7 L301.72 299 L311.88 298.2 L322.04 297.2 L332.2 295.6 L342.36 292.8 L352.52 290.7 L362.68 288.4 L372.84 284.6 L383 280.8 L393.16 275.6 L403.32 270.3 L413.48 265.4 L423.64 260.9 L433.8 256.7 L443.96 252.7 L454.12 250.1 L464.28 247 L474.44 244.5 L484.6 243.9" fill="none" stroke="#000" stroke-width="1.2" />
<path d="M281.4 345.6 V359.6 M279.1 345.6 H283.7 M279.1 359.6 H283.7" stroke="#000" stroke-width="1.4" fill="none"/>
<path d="M291.56 336.1 V348.3 M289.26 336.1 H293.86 M289.26 348.3 H293.86" stroke="#000" stroke-width="1.4" fill="none"/>
<path d="M301.72 327.7 V338.5 M299.42 327.7 H304.02 M299.42 338.5 H304.02" stroke="#000" stroke-width="1.4" fill="none"/>
<path d="M311.88 321.4 V330.6 M309.58 321.4 H314.18 M309.58 330.6 H314.18" stroke="#000" stroke-width="1.4" fill="none"/>
<path d="M322.04 314.4 V321.4 M319.74 314.4 H324.34 M319.74 321.4 H324.34" stroke="#000" stroke-width="1.4" fill="none"/>
<path d="M423.64 255.1 V264.1 M421.34 255.1 H425.94 M421.34 264.1 H425.94" stroke="#000" stroke-width="1.4" fill="none"/>
<path d="M433.8 250 V261 M431.5 250 H436.1 M431.5 261 H436.1" stroke="#000" stroke-width="1.4" fill="none"/>
<path d="M443.96 245.1 V258.1 M441.66 245.1 H446.26 M441.66 258.1 H446.26" stroke="#000" stroke-width="1.4" fill="none"/>
<path d="M454.12 241.8 V256.2 M451.82 241.8 H456.42 M451.82 256.2 H456.42" stroke="#000" stroke-width="1.4" fill="none"/>
<path d="M464.28 237.7 V253.9 M461.98 237.7 H466.58 M461.98 253.9 H466.58" stroke="#000" stroke-width="1.4" fill="none"/>
<path d="M474.44 234.7 V251.9 M472.14 234.7 H476.74 M472.14 251.9 H476.74" stroke="#000" stroke-width="1.4" fill="none"/>
<path d="M484.6 233.9 V251.5 M482.3 233.9 H486.9 M482.3 251.5 H486.9" stroke="#000" stroke-width="1.4" fill="none"/>
<rect x="278.3" y="349.5" width="6.2" height="6.2" fill="#fff" stroke="#000" stroke-width="1.9"/>
<rect x="288.46" y="339.1" width="6.2" height="6.2" fill="#fff" stroke="#000" stroke-width="1.9"/>
<rect x="298.62" y="330" width="6.2" height="6.2" fill="#fff" stroke="#000" stroke-width="1.9"/>
<rect x="308.78" y="322.9" width="6.2" height="6.2" fill="#fff" stroke="#000" stroke-width="1.9"/>
<rect x="318.94" y="314.8" width="6.2" height="6.2" fill="#fff" stroke="#000" stroke-width="1.9"/>
<rect x="329.1" y="308.1" width="6.2" height="6.2" fill="#fff" stroke="#000" stroke-width="1.9"/>
<rect x="339.26" y="300.8" width="6.2" height="6.2" fill="#fff" stroke="#000" stroke-width="1.9"/>
<rect x="349.42" y="294.6" width="6.2" height="6.2" fill="#fff" stroke="#000" stroke-width="1.9"/>
<rect x="359.58" y="289.3" width="6.2" height="6.2" fill="#fff" stroke="#000" stroke-width="1.9"/>
<rect x="369.74" y="283.3" width="6.2" height="6.2" fill="#fff" stroke="#000" stroke-width="1.9"/>
<rect x="379.9" y="278.1" width="6.2" height="6.2" fill="#fff" stroke="#000" stroke-width="1.9"/>
<rect x="390.06" y="271.3" width="6.2" height="6.2" fill="#fff" stroke="#000" stroke-width="1.9"/>
<rect x="400.22" y="265.9" width="6.2" height="6.2" fill="#fff" stroke="#000" stroke-width="1.9"/>
<rect x="410.38" y="261.1" width="6.2" height="6.2" fill="#fff" stroke="#000" stroke-width="1.9"/>
<rect x="420.54" y="256.5" width="6.2" height="6.2" fill="#fff" stroke="#000" stroke-width="1.9"/>
<rect x="430.7" y="252.4" width="6.2" height="6.2" fill="#fff" stroke="#000" stroke-width="1.9"/>
<rect x="440.86" y="248.5" width="6.2" height="6.2" fill="#fff" stroke="#000" stroke-width="1.9"/>
<rect x="451.02" y="245.9" width="6.2" height="6.2" fill="#fff" stroke="#000" stroke-width="1.9"/>
<rect x="461.18" y="242.7" width="6.2" height="6.2" fill="#fff" stroke="#000" stroke-width="1.9"/>
<rect x="471.34" y="240.2" width="6.2" height="6.2" fill="#fff" stroke="#000" stroke-width="1.9"/>
<rect x="481.5" y="239.6" width="6.2" height="6.2" fill="#fff" stroke="#000" stroke-width="1.9"/>
<path d="M281.4 312.75 V322.05 M279.1 312.75 H283.7 M279.1 322.05 H283.7" stroke="#000" stroke-width="1.4" fill="none"/>
<circle cx="281.4" cy="317.4" r="3.55" fill="#fff" stroke="#000" stroke-width="1.8"/>
<circle cx="291.56" cy="311.9" r="3.55" fill="#fff" stroke="#000" stroke-width="1.8"/>
<circle cx="301.72" cy="306.9" r="3.55" fill="#fff" stroke="#000" stroke-width="1.8"/>
<circle cx="311.88" cy="303" r="3.55" fill="#fff" stroke="#000" stroke-width="1.8"/>
<circle cx="322.04" cy="299.1" r="3.55" fill="#fff" stroke="#000" stroke-width="1.8"/>
<circle cx="332.2" cy="296.4" r="3.55" fill="#fff" stroke="#000" stroke-width="1.8"/>
<circle cx="342.36" cy="292" r="3.55" fill="#fff" stroke="#000" stroke-width="1.8"/>
<circle cx="352.52" cy="289.8" r="3.55" fill="#fff" stroke="#000" stroke-width="1.8"/>
<circle cx="362.68" cy="286.4" r="3.55" fill="#fff" stroke="#000" stroke-width="1.8"/>
<circle cx="372.84" cy="282.4" r="3.55" fill="#fff" stroke="#000" stroke-width="1.8"/>
<circle cx="383" cy="280.2" r="3.55" fill="#fff" stroke="#000" stroke-width="1.8"/>
<circle cx="393.16" cy="278.9" r="3.55" fill="#fff" stroke="#000" stroke-width="1.8"/>
<circle cx="403.32" cy="277.2" r="3.55" fill="#fff" stroke="#000" stroke-width="1.8"/>
<circle cx="413.48" cy="275.9" r="3.55" fill="#fff" stroke="#000" stroke-width="1.8"/>
<circle cx="423.64" cy="275.2" r="3.55" fill="#fff" stroke="#000" stroke-width="1.8"/>
<circle cx="433.8" cy="274.6" r="3.55" fill="#fff" stroke="#000" stroke-width="1.8"/>
<circle cx="443.96" cy="274.4" r="3.55" fill="#fff" stroke="#000" stroke-width="1.8"/>
<circle cx="454.12" cy="274.3" r="3.55" fill="#fff" stroke="#000" stroke-width="1.8"/>
<circle cx="464.28" cy="274.3" r="3.55" fill="#fff" stroke="#000" stroke-width="1.8"/>
<circle cx="474.44" cy="274.3" r="3.55" fill="#fff" stroke="#000" stroke-width="1.8"/>
<circle cx="484.6" cy="274.3" r="3.55" fill="#fff" stroke="#000" stroke-width="1.8"/>
<path d="M281.4 295.25 L285 301.65 L277.8 301.65 Z" fill="#fff" stroke="#000" stroke-width="1.5" stroke-linejoin="round"/>
<path d="M291.56 294.55 L295.16 300.95 L287.96 300.95 Z" fill="#fff" stroke="#000" stroke-width="1.5" stroke-linejoin="round"/>
<path d="M301.72 293.85 L305.32 300.25 L298.12 300.25 Z" fill="#fff" stroke="#000" stroke-width="1.5" stroke-linejoin="round"/>
<path d="M311.88 293.05 L315.48 299.45 L308.28 299.45 Z" fill="#fff" stroke="#000" stroke-width="1.5" stroke-linejoin="round"/>
<path d="M322.04 292.05 L325.64 298.45 L318.44 298.45 Z" fill="#fff" stroke="#000" stroke-width="1.5" stroke-linejoin="round"/>
<path d="M332.2 290.45 L335.8 296.85 L328.6 296.85 Z" fill="#fff" stroke="#000" stroke-width="1.5" stroke-linejoin="round"/>
<path d="M342.36 287.65 L345.96 294.05 L338.76 294.05 Z" fill="#fff" stroke="#000" stroke-width="1.5" stroke-linejoin="round"/>
<path d="M352.52 285.55 L356.12 291.95 L348.92 291.95 Z" fill="#fff" stroke="#000" stroke-width="1.5" stroke-linejoin="round"/>
<path d="M362.68 283.25 L366.28 289.65 L359.08 289.65 Z" fill="#fff" stroke="#000" stroke-width="1.5" stroke-linejoin="round"/>
<path d="M372.84 279.45 L376.44 285.85 L369.24 285.85 Z" fill="#fff" stroke="#000" stroke-width="1.5" stroke-linejoin="round"/>
<path d="M383 275.65 L386.6 282.05 L379.4 282.05 Z" fill="#fff" stroke="#000" stroke-width="1.5" stroke-linejoin="round"/>
<path d="M393.16 270.45 L396.76 276.85 L389.56 276.85 Z" fill="#fff" stroke="#000" stroke-width="1.5" stroke-linejoin="round"/>
<path d="M403.32 265.15 L406.92 271.55 L399.72 271.55 Z" fill="#fff" stroke="#000" stroke-width="1.5" stroke-linejoin="round"/>
<path d="M413.48 260.25 L417.08 266.65 L409.88 266.65 Z" fill="#fff" stroke="#000" stroke-width="1.5" stroke-linejoin="round"/>
<path d="M423.64 255.75 L427.24 262.15 L420.04 262.15 Z" fill="#fff" stroke="#000" stroke-width="1.5" stroke-linejoin="round"/>
<path d="M433.8 251.55 L437.4 257.95 L430.2 257.95 Z" fill="#fff" stroke="#000" stroke-width="1.5" stroke-linejoin="round"/>
<path d="M443.96 247.55 L447.56 253.95 L440.36 253.95 Z" fill="#fff" stroke="#000" stroke-width="1.5" stroke-linejoin="round"/>
<path d="M454.12 244.95 L457.72 251.35 L450.52 251.35 Z" fill="#fff" stroke="#000" stroke-width="1.5" stroke-linejoin="round"/>
<path d="M464.28 241.85 L467.88 248.25 L460.68 248.25 Z" fill="#fff" stroke="#000" stroke-width="1.5" stroke-linejoin="round"/>
<path d="M474.44 239.35 L478.04 245.75 L470.84 245.75 Z" fill="#fff" stroke="#000" stroke-width="1.5" stroke-linejoin="round"/>
<path d="M484.6 238.75 L488.2 245.15 L481 245.15 Z" fill="#fff" stroke="#000" stroke-width="1.5" stroke-linejoin="round"/>
</svg>
</body></html>
